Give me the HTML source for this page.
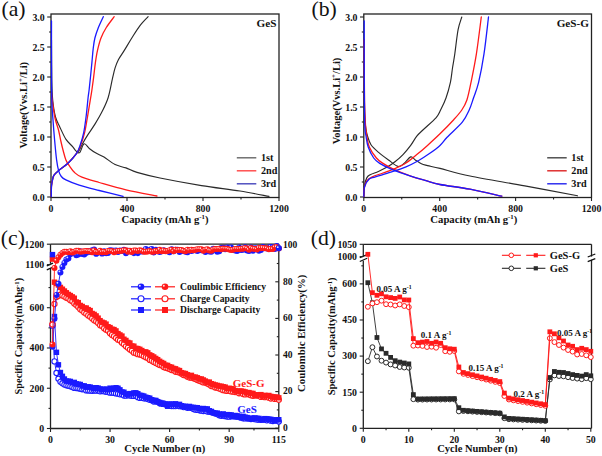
<!DOCTYPE html>
<html><head><meta charset="utf-8"><style>html,body{margin:0;padding:0;background:#fff;overflow:hidden}svg{display:block}</style></head>
<body><svg width="602" height="456" viewBox="0 0 602 456">
<rect width="602" height="456" fill="#fff"/>
<rect x="51" y="14" width="228" height="183.5" fill="none" stroke="#222" stroke-width="1.3"/>
<line x1="51" y1="197.5" x2="51" y2="201" stroke="#222" stroke-width="1.1"/>
<text x="51" y="211.8" font-family="Liberation Serif" font-weight="bold" font-size="9.8" fill="#111" text-anchor="middle" >0</text>
<line x1="89" y1="197.5" x2="89" y2="199.5" stroke="#222" stroke-width="1.1"/>
<line x1="127" y1="197.5" x2="127" y2="201" stroke="#222" stroke-width="1.1"/>
<text x="127" y="211.8" font-family="Liberation Serif" font-weight="bold" font-size="9.8" fill="#111" text-anchor="middle" >400</text>
<line x1="165" y1="197.5" x2="165" y2="199.5" stroke="#222" stroke-width="1.1"/>
<line x1="203" y1="197.5" x2="203" y2="201" stroke="#222" stroke-width="1.1"/>
<text x="203" y="211.8" font-family="Liberation Serif" font-weight="bold" font-size="9.8" fill="#111" text-anchor="middle" >800</text>
<line x1="241" y1="197.5" x2="241" y2="199.5" stroke="#222" stroke-width="1.1"/>
<line x1="279" y1="197.5" x2="279" y2="201" stroke="#222" stroke-width="1.1"/>
<text x="279" y="211.8" font-family="Liberation Serif" font-weight="bold" font-size="9.8" fill="#111" text-anchor="middle" >1200</text>
<line x1="47.2" y1="197" x2="51" y2="197" stroke="#222" stroke-width="1.1"/>
<text x="44.7" y="200.7" font-family="Liberation Serif" font-weight="bold" font-size="9.8" fill="#111" text-anchor="end" >0.0</text>
<line x1="49" y1="182" x2="51" y2="182" stroke="#222" stroke-width="1.1"/>
<line x1="47.2" y1="167" x2="51" y2="167" stroke="#222" stroke-width="1.1"/>
<text x="44.7" y="170.7" font-family="Liberation Serif" font-weight="bold" font-size="9.8" fill="#111" text-anchor="end" >0.5</text>
<line x1="49" y1="152" x2="51" y2="152" stroke="#222" stroke-width="1.1"/>
<line x1="47.2" y1="137" x2="51" y2="137" stroke="#222" stroke-width="1.1"/>
<text x="44.7" y="140.7" font-family="Liberation Serif" font-weight="bold" font-size="9.8" fill="#111" text-anchor="end" >1.0</text>
<line x1="49" y1="122" x2="51" y2="122" stroke="#222" stroke-width="1.1"/>
<line x1="47.2" y1="107" x2="51" y2="107" stroke="#222" stroke-width="1.1"/>
<text x="44.7" y="110.7" font-family="Liberation Serif" font-weight="bold" font-size="9.8" fill="#111" text-anchor="end" >1.5</text>
<line x1="49" y1="92" x2="51" y2="92" stroke="#222" stroke-width="1.1"/>
<line x1="47.2" y1="77" x2="51" y2="77" stroke="#222" stroke-width="1.1"/>
<text x="44.7" y="80.7" font-family="Liberation Serif" font-weight="bold" font-size="9.8" fill="#111" text-anchor="end" >2.0</text>
<line x1="49" y1="62" x2="51" y2="62" stroke="#222" stroke-width="1.1"/>
<line x1="47.2" y1="47" x2="51" y2="47" stroke="#222" stroke-width="1.1"/>
<text x="44.7" y="50.7" font-family="Liberation Serif" font-weight="bold" font-size="9.8" fill="#111" text-anchor="end" >2.5</text>
<line x1="49" y1="32" x2="51" y2="32" stroke="#222" stroke-width="1.1"/>
<line x1="47.2" y1="17" x2="51" y2="17" stroke="#222" stroke-width="1.1"/>
<text x="44.7" y="20.7" font-family="Liberation Serif" font-weight="bold" font-size="9.8" fill="#111" text-anchor="end" >3.0</text>
<text x="165" y="222.8" font-family="Liberation Serif" font-weight="bold" font-size="10.7" fill="#111" text-anchor="middle" >Capacity (mAh g<tspan dy="-3.6" font-size="6.8">-1</tspan><tspan dy="3.6">)</tspan></text>
<text transform="translate(26.8,105.2) rotate(-90)" font-family="Liberation Serif" font-weight="bold" font-size="10.5" fill="#111" text-anchor="middle">Voltage(Vvs.Li<tspan dy="-3.6" font-size="6.8">+</tspan><tspan dy="3.6">/Li)</tspan></text>
<text x="276.5" y="26.5" font-family="Liberation Serif" font-weight="bold" font-size="11.2" fill="#111" text-anchor="end" >GeS</text>
<text x="1.5" y="15.7" font-family="Liberation Serif" font-weight="normal" font-size="21.7" fill="#111" text-anchor="start" >(a)</text>
<rect x="363.8" y="14" width="227.7" height="183.5" fill="none" stroke="#222" stroke-width="1.3"/>
<line x1="363.8" y1="197.5" x2="363.8" y2="201" stroke="#222" stroke-width="1.1"/>
<text x="363.8" y="211.8" font-family="Liberation Serif" font-weight="bold" font-size="9.8" fill="#111" text-anchor="middle" >0</text>
<line x1="401.75" y1="197.5" x2="401.75" y2="199.5" stroke="#222" stroke-width="1.1"/>
<line x1="439.7" y1="197.5" x2="439.7" y2="201" stroke="#222" stroke-width="1.1"/>
<text x="439.7" y="211.8" font-family="Liberation Serif" font-weight="bold" font-size="9.8" fill="#111" text-anchor="middle" >400</text>
<line x1="477.65" y1="197.5" x2="477.65" y2="199.5" stroke="#222" stroke-width="1.1"/>
<line x1="515.6" y1="197.5" x2="515.6" y2="201" stroke="#222" stroke-width="1.1"/>
<text x="515.6" y="211.8" font-family="Liberation Serif" font-weight="bold" font-size="9.8" fill="#111" text-anchor="middle" >800</text>
<line x1="553.55" y1="197.5" x2="553.55" y2="199.5" stroke="#222" stroke-width="1.1"/>
<line x1="591.5" y1="197.5" x2="591.5" y2="201" stroke="#222" stroke-width="1.1"/>
<text x="591.5" y="211.8" font-family="Liberation Serif" font-weight="bold" font-size="9.8" fill="#111" text-anchor="middle" >1200</text>
<line x1="360" y1="197" x2="363.8" y2="197" stroke="#222" stroke-width="1.1"/>
<text x="357.5" y="200.7" font-family="Liberation Serif" font-weight="bold" font-size="9.8" fill="#111" text-anchor="end" >0.0</text>
<line x1="361.8" y1="182" x2="363.8" y2="182" stroke="#222" stroke-width="1.1"/>
<line x1="360" y1="167" x2="363.8" y2="167" stroke="#222" stroke-width="1.1"/>
<text x="357.5" y="170.7" font-family="Liberation Serif" font-weight="bold" font-size="9.8" fill="#111" text-anchor="end" >0.5</text>
<line x1="361.8" y1="152" x2="363.8" y2="152" stroke="#222" stroke-width="1.1"/>
<line x1="360" y1="137" x2="363.8" y2="137" stroke="#222" stroke-width="1.1"/>
<text x="357.5" y="140.7" font-family="Liberation Serif" font-weight="bold" font-size="9.8" fill="#111" text-anchor="end" >1.0</text>
<line x1="361.8" y1="122" x2="363.8" y2="122" stroke="#222" stroke-width="1.1"/>
<line x1="360" y1="107" x2="363.8" y2="107" stroke="#222" stroke-width="1.1"/>
<text x="357.5" y="110.7" font-family="Liberation Serif" font-weight="bold" font-size="9.8" fill="#111" text-anchor="end" >1.5</text>
<line x1="361.8" y1="92" x2="363.8" y2="92" stroke="#222" stroke-width="1.1"/>
<line x1="360" y1="77" x2="363.8" y2="77" stroke="#222" stroke-width="1.1"/>
<text x="357.5" y="80.7" font-family="Liberation Serif" font-weight="bold" font-size="9.8" fill="#111" text-anchor="end" >2.0</text>
<line x1="361.8" y1="62" x2="363.8" y2="62" stroke="#222" stroke-width="1.1"/>
<line x1="360" y1="47" x2="363.8" y2="47" stroke="#222" stroke-width="1.1"/>
<text x="357.5" y="50.7" font-family="Liberation Serif" font-weight="bold" font-size="9.8" fill="#111" text-anchor="end" >2.5</text>
<line x1="361.8" y1="32" x2="363.8" y2="32" stroke="#222" stroke-width="1.1"/>
<line x1="360" y1="17" x2="363.8" y2="17" stroke="#222" stroke-width="1.1"/>
<text x="357.5" y="20.7" font-family="Liberation Serif" font-weight="bold" font-size="9.8" fill="#111" text-anchor="end" >3.0</text>
<text x="473.85" y="222.8" font-family="Liberation Serif" font-weight="bold" font-size="10.7" fill="#111" text-anchor="middle" >Capacity (mAh g<tspan dy="-3.6" font-size="6.8">-1</tspan><tspan dy="3.6">)</tspan></text>
<text transform="translate(339.6,101) rotate(-90)" font-family="Liberation Serif" font-weight="bold" font-size="10.5" fill="#111" text-anchor="middle">Voltage(Vvs.Li<tspan dy="-3.6" font-size="6.8">+</tspan><tspan dy="3.6">/Li)</tspan></text>
<text x="589" y="26.5" font-family="Liberation Serif" font-weight="bold" font-size="11.2" fill="#111" text-anchor="end" >GeS-G</text>
<text x="311.5" y="15.7" font-family="Liberation Serif" font-weight="normal" font-size="21.7" fill="#111" text-anchor="start" >(b)</text>
<path d="M51.5,40 C51.55,46.67 51.6,70 51.8,80 C52,90 52.08,93.83 52.7,100 C53.32,106.17 54.28,112.43 55.5,117 C56.72,121.57 58.25,123.67 60,127.4 C61.75,131.13 63.9,136.2 66,139.4 C68.1,142.6 70.95,144.68 72.6,146.6 C74.25,148.52 74.72,149.9 75.9,150.9 C77.08,151.9 78.33,153.78 79.7,152.6 C81.07,151.42 82.45,144.45 84.1,143.8 C85.75,143.15 87.62,147.15 89.6,148.7 C91.58,150.25 93.6,151.72 96,153.1 C98.4,154.48 100.82,155.08 104,157 C107.18,158.92 111.43,162.78 115.1,164.6 C118.77,166.42 122.35,166.6 126,167.9 C129.65,169.2 131.33,170.72 137,172.4 C142.67,174.08 149.25,175.8 160,178 C170.75,180.2 188.17,183.43 201.5,185.6 C214.83,187.77 228.75,189.2 240,191 C251.25,192.8 264.17,195.5 269,196.4" fill="none" stroke="#2a2a2a" stroke-width="1.15" stroke-linejoin="round" stroke-linecap="round"/>
<path d="M51.3,196.5 C51.33,194.75 51.3,188.75 51.5,186 C51.7,183.25 52.08,181.8 52.5,180 C52.92,178.2 52.87,176.88 54,175.2 C55.13,173.52 56.98,171.88 59.3,169.9 C61.62,167.92 65.02,166.07 67.9,163.3 C70.78,160.53 74.7,155.48 76.6,153.3 C78.5,151.12 78.27,151.88 79.3,150.2 C80.33,148.52 81.33,145.83 82.8,143.2 C84.27,140.57 86.05,137.62 88.1,134.4 C90.15,131.18 92.77,127.7 95.1,123.9 C97.43,120.1 99.92,116 102.1,111.6 C104.28,107.2 106.47,103.03 108.2,97.5 C109.93,91.97 111.35,83.33 112.5,78.4 C113.65,73.47 114.1,71.05 115.1,67.9 C116.1,64.75 116.97,62.42 118.5,59.5 C120.03,56.58 122.08,53.98 124.3,50.4 C126.52,46.82 129.22,42.1 131.8,38 C134.38,33.9 137.08,29.35 139.8,25.8 C142.52,22.25 146.72,18.22 148.1,16.7" fill="none" stroke="#2a2a2a" stroke-width="1.15" stroke-linejoin="round" stroke-linecap="round"/>
<path d="M51.5,92 C51.62,93.33 51.62,95.67 52.2,100 C52.78,104.33 53.95,113 55,118 C56.05,123 57.57,126.33 58.5,130 C59.43,133.67 59.85,136.67 60.6,140 C61.35,143.33 62.12,146.68 63,150 C63.88,153.32 64.75,157.13 65.9,159.9 C67.05,162.67 68.45,164.48 69.9,166.6 C71.35,168.72 72.6,170.83 74.6,172.6 C76.6,174.37 77.8,175.55 81.9,177.2 C86,178.85 91.85,180.4 99.2,182.5 C106.55,184.6 116.38,187.55 126,189.8 C135.62,192.05 151.75,194.97 156.9,196" fill="none" stroke="#ff1a1a" stroke-width="1.3" stroke-linejoin="round" stroke-linecap="round"/>
<path d="M51.3,196.5 C51.33,194.75 51.3,188.75 51.5,186 C51.7,183.25 52.08,181.8 52.5,180 C52.92,178.2 52.87,176.88 54,175.2 C55.13,173.52 56.98,171.88 59.3,169.9 C61.62,167.92 65.02,166.07 67.9,163.3 C70.78,160.53 74.48,156.27 76.6,153.3 C78.72,150.33 79.27,148.95 80.6,145.5 C81.93,142.05 83.5,137.08 84.6,132.6 C85.7,128.12 86.18,124.45 87.2,118.6 C88.22,112.75 89.92,102.27 90.7,97.5 C91.48,92.73 91.4,93.47 91.9,90 C92.4,86.53 93.12,81.27 93.7,76.7 C94.28,72.13 94.77,66.98 95.4,62.6 C96.03,58.22 96.57,54.5 97.5,50.4 C98.43,46.3 99.53,41.82 101,38 C102.47,34.18 104.1,31.05 106.3,27.5 C108.5,23.95 112.88,18.5 114.2,16.7" fill="none" stroke="#ff1a1a" stroke-width="1.3" stroke-linejoin="round" stroke-linecap="round"/>
<path d="M51.5,21 C51.5,27.5 51.45,46.83 51.5,60 C51.55,73.17 51.55,90 51.8,100 C52.05,110 52.53,113.33 53,120 C53.47,126.67 54,133.35 54.6,140 C55.2,146.65 55.93,154.8 56.6,159.9 C57.27,165 57.82,167.83 58.6,170.6 C59.38,173.37 60.08,174.95 61.3,176.5 C62.52,178.05 62.92,178.45 65.9,179.9 C68.88,181.35 73.65,183.43 79.2,185.2 C84.75,186.97 91.88,188.65 99.2,190.5 C106.52,192.35 119.12,195.33 123.1,196.3" fill="none" stroke="#1a1aff" stroke-width="1.3" stroke-linejoin="round" stroke-linecap="round"/>
<path d="M51.3,196.5 C51.33,194.75 51.3,188.75 51.5,186 C51.7,183.25 52.08,181.8 52.5,180 C52.92,178.2 52.87,176.88 54,175.2 C55.13,173.52 56.98,171.88 59.3,169.9 C61.62,167.92 65.02,166.07 67.9,163.3 C70.78,160.53 74.55,156.35 76.6,153.3 C78.65,150.25 79.02,148.45 80.2,145 C81.38,141.55 82.68,137.6 83.7,132.6 C84.72,127.6 85.57,120.85 86.3,115 C87.03,109.15 87.63,101.67 88.1,97.5 C88.57,93.33 88.7,93.47 89.1,90 C89.5,86.53 90.03,81.27 90.5,76.7 C90.97,72.13 91.45,67.28 91.9,62.6 C92.35,57.92 92.7,52.7 93.2,48.6 C93.7,44.5 94.03,41.52 94.9,38 C95.77,34.48 97,31.05 98.4,27.5 C99.8,23.95 102.48,18.5 103.3,16.7" fill="none" stroke="#1a1aff" stroke-width="1.3" stroke-linejoin="round" stroke-linecap="round"/>
<path d="M364.2,40 C364.23,50 364.27,86.67 364.4,100 C364.53,113.33 364.77,115.33 365,120 C365.23,124.67 365.38,125.33 365.8,128 C366.22,130.67 366.63,133.22 367.5,136 C368.37,138.78 369.15,141.97 371,144.7 C372.85,147.43 375.68,149.85 378.6,152.4 C381.52,154.95 385.27,157.67 388.5,160 C391.73,162.33 395.42,165.82 398,166.4 C400.58,166.98 401.88,165.08 404,163.5 C406.12,161.92 408.82,157.5 410.7,156.9 C412.58,156.3 413.52,158.75 415.3,159.9 C417.08,161.05 419.37,162.85 421.4,163.8 C423.43,164.75 424.4,164.83 427.5,165.6 C430.6,166.37 432.92,166.67 440,168.4 C447.08,170.13 455.87,173.08 470,176 C484.13,178.92 506.88,182.6 524.8,185.9 C542.72,189.2 568.72,194.15 577.5,195.8" fill="none" stroke="#2a2a2a" stroke-width="1.15" stroke-linejoin="round" stroke-linecap="round"/>
<path d="M363.8,196.5 C363.93,194.63 364.08,188.45 364.6,185.3 C365.12,182.15 365.88,179.4 366.9,177.6 C367.92,175.8 368.78,175.53 370.7,174.5 C372.62,173.47 375.58,172.68 378.4,171.4 C381.22,170.12 384.78,168.45 387.6,166.8 C390.42,165.15 392.73,163.53 395.3,161.5 C397.87,159.47 400.43,157.28 403,154.6 C405.57,151.92 408.4,148.48 410.7,145.4 C413,142.32 414.77,138.67 416.8,136.1 C418.83,133.53 419.67,133.08 422.9,130 C426.13,126.92 433.25,120.93 436.2,117.6 C439.15,114.27 438.97,113.27 440.6,110 C442.23,106.73 444.37,102.6 446,98 C447.63,93.4 449.32,87.4 450.4,82.4 C451.48,77.4 451.77,72.75 452.5,68 C453.23,63.25 453.87,60.28 454.8,53.9 C455.73,47.52 456.93,35.85 458.1,29.7 C459.27,23.55 461.18,19.12 461.8,17" fill="none" stroke="#2a2a2a" stroke-width="1.15" stroke-linejoin="round" stroke-linecap="round"/>
<path d="M364.2,40 C364.25,50 364.28,85.83 364.5,100 C364.72,114.17 365.12,119 365.5,125 C365.88,131 366.17,132.33 366.8,136 C367.43,139.67 367.7,143.33 369.3,147 C370.9,150.67 374.12,155.27 376.4,158 C378.68,160.73 380.25,161.6 383,163.4 C385.75,165.2 388.28,166.68 392.9,168.8 C397.52,170.92 405.18,174.12 410.7,176.1 C416.22,178.08 421.12,179.3 426,180.7 C430.88,182.1 432.67,183.08 440,184.5 C447.33,185.92 459.7,187.25 470,189.2 C480.3,191.15 496.5,195.03 501.8,196.2" fill="none" stroke="#ff1a1a" stroke-width="1.3" stroke-linejoin="round" stroke-linecap="round"/>
<path d="M363.8,196.5 C363.87,195.13 363.68,190.93 364.2,188.3 C364.72,185.67 365.55,182.62 366.9,180.7 C368.25,178.78 369.62,178.08 372.3,176.8 C374.98,175.52 379.17,174.4 383,173 C386.83,171.6 391.47,170.07 395.3,168.4 C399.13,166.73 402.42,165.3 406,163 C409.58,160.7 413.22,157.53 416.8,154.6 C420.38,151.67 423.63,148.87 427.5,145.4 C431.37,141.93 435.63,138.08 440,133.8 C444.37,129.52 450.07,123.67 453.7,119.7 C457.33,115.73 459.6,113.28 461.8,110 C464,106.72 465.37,104.6 466.9,100 C468.43,95.4 469.42,90.08 471,82.4 C472.58,74.72 474.68,64.8 476.4,53.9 C478.12,43 480.48,23.15 481.3,17" fill="none" stroke="#ff1a1a" stroke-width="1.3" stroke-linejoin="round" stroke-linecap="round"/>
<path d="M364.2,21 C364.22,30.83 364.2,62.67 364.3,80 C364.4,97.33 364.52,115.67 364.8,125 C365.08,134.33 365.43,132.33 366,136 C366.57,139.67 366.92,143.33 368.2,147 C369.48,150.67 371.78,155.27 373.7,158 C375.62,160.73 376.87,161.6 379.7,163.4 C382.53,165.2 385.53,166.68 390.7,168.8 C395.87,170.92 404.82,174.12 410.7,176.1 C416.58,178.08 421.12,179.3 426,180.7 C430.88,182.1 432.67,183.08 440,184.5 C447.33,185.92 459.7,187.25 470,189.2 C480.3,191.15 496.5,195.03 501.8,196.2" fill="none" stroke="#1a1aff" stroke-width="1.3" stroke-linejoin="round" stroke-linecap="round"/>
<path d="M363.8,196.5 C363.93,194.88 363.7,189.7 364.6,186.8 C365.5,183.9 367.4,180.77 369.2,179.1 C371,177.43 371.82,177.95 375.4,176.8 C378.98,175.65 385.6,173.87 390.7,172.2 C395.8,170.53 401.4,168.72 406,166.8 C410.6,164.88 414.45,162.87 418.3,160.7 C422.15,158.53 425.48,156.35 429.1,153.8 C432.72,151.25 437,148.15 440,145.4 C443,142.65 443.35,141.22 447.1,137.3 C450.85,133.38 458.82,126.45 462.5,121.9 C466.18,117.35 467.37,113.98 469.2,110 C471.03,106.02 471.93,102.6 473.5,98 C475.07,93.4 476.85,89.75 478.6,82.4 C480.35,75.05 482.35,64.8 484,53.9 C485.65,43 487.75,23.15 488.5,17" fill="none" stroke="#1a1aff" stroke-width="1.3" stroke-linejoin="round" stroke-linecap="round"/>
<line x1="236.8" y1="157.8" x2="256.3" y2="157.8" stroke="#666" stroke-width="1.4"/>
<text x="261" y="161.4" font-family="Liberation Serif" font-weight="bold" font-size="10.2" fill="#111" text-anchor="start" >1st</text>
<line x1="236.8" y1="170.8" x2="256.3" y2="170.8" stroke="#f44" stroke-width="1.4"/>
<text x="261" y="174.4" font-family="Liberation Serif" font-weight="bold" font-size="10.2" fill="#111" text-anchor="start" >2nd</text>
<line x1="236.8" y1="183.8" x2="256.3" y2="183.8" stroke="#44b" stroke-width="1.4"/>
<text x="261" y="187.4" font-family="Liberation Serif" font-weight="bold" font-size="10.2" fill="#111" text-anchor="start" >3rd</text>
<line x1="547.2" y1="157.8" x2="566.7" y2="157.8" stroke="#444" stroke-width="1.4"/>
<text x="571.3" y="161.4" font-family="Liberation Serif" font-weight="bold" font-size="10.2" fill="#111" text-anchor="start" >1st</text>
<line x1="547.2" y1="170.8" x2="566.7" y2="170.8" stroke="#d22" stroke-width="1.4"/>
<text x="571.3" y="174.4" font-family="Liberation Serif" font-weight="bold" font-size="10.2" fill="#111" text-anchor="start" >2nd</text>
<line x1="547.2" y1="183.8" x2="566.7" y2="183.8" stroke="#22e" stroke-width="1.4"/>
<text x="571.3" y="187.4" font-family="Liberation Serif" font-weight="bold" font-size="10.2" fill="#111" text-anchor="start" >3rd</text>
<line x1="50.5" y1="244.2" x2="278.8" y2="244.2" stroke="#222" stroke-width="1.3"/>
<line x1="50.5" y1="428.5" x2="278.8" y2="428.5" stroke="#222" stroke-width="1.3"/>
<line x1="278.8" y1="244.2" x2="278.8" y2="428.5" stroke="#222" stroke-width="1.3"/>
<line x1="50.5" y1="244.2" x2="50.5" y2="265.2" stroke="#222" stroke-width="1.3"/>
<line x1="50.5" y1="268.2" x2="50.5" y2="428.5" stroke="#222" stroke-width="1.3"/>
<polygon points="46.5,265.6 53,262.6 53,267.6 46.5,270.6" fill="#fff"/>
<line x1="46.8" y1="265.9" x2="53" y2="263.1" stroke="#111" stroke-width="1.2"/>
<line x1="46.8" y1="269.9" x2="53" y2="267.1" stroke="#111" stroke-width="1.2"/>
<line x1="46.9" y1="428.5" x2="50.5" y2="428.5" stroke="#222" stroke-width="1.1"/>
<text x="44.2" y="431.8" font-family="Liberation Serif" font-weight="bold" font-size="9.8" fill="#111" text-anchor="end" >0</text>
<line x1="48.5" y1="408.37" x2="50.5" y2="408.37" stroke="#222" stroke-width="1.1"/>
<line x1="46.9" y1="388.24" x2="50.5" y2="388.24" stroke="#222" stroke-width="1.1"/>
<text x="44.2" y="391.54" font-family="Liberation Serif" font-weight="bold" font-size="9.8" fill="#111" text-anchor="end" >200</text>
<line x1="48.5" y1="368.11" x2="50.5" y2="368.11" stroke="#222" stroke-width="1.1"/>
<line x1="46.9" y1="347.98" x2="50.5" y2="347.98" stroke="#222" stroke-width="1.1"/>
<text x="44.2" y="351.28" font-family="Liberation Serif" font-weight="bold" font-size="9.8" fill="#111" text-anchor="end" >400</text>
<line x1="48.5" y1="327.85" x2="50.5" y2="327.85" stroke="#222" stroke-width="1.1"/>
<line x1="46.9" y1="307.72" x2="50.5" y2="307.72" stroke="#222" stroke-width="1.1"/>
<text x="44.2" y="311.02" font-family="Liberation Serif" font-weight="bold" font-size="9.8" fill="#111" text-anchor="end" >600</text>
<line x1="48.5" y1="287.59" x2="50.5" y2="287.59" stroke="#222" stroke-width="1.1"/>
<line x1="46.9" y1="264.6" x2="50.5" y2="264.6" stroke="#222" stroke-width="1.1"/>
<text x="44.2" y="267.9" font-family="Liberation Serif" font-weight="bold" font-size="9.8" fill="#111" text-anchor="end" >1100</text>
<line x1="46.9" y1="244.2" x2="50.5" y2="244.2" stroke="#222" stroke-width="1.1"/>
<text x="44.2" y="247.5" font-family="Liberation Serif" font-weight="bold" font-size="9.8" fill="#111" text-anchor="end" >1200</text>
<line x1="50.5" y1="428.5" x2="50.5" y2="432" stroke="#222" stroke-width="1.1"/>
<text x="50.5" y="442.5" font-family="Liberation Serif" font-weight="bold" font-size="9.8" fill="#111" text-anchor="middle" >0</text>
<line x1="80.28" y1="428.5" x2="80.28" y2="430.5" stroke="#222" stroke-width="1.1"/>
<line x1="110.06" y1="428.5" x2="110.06" y2="432" stroke="#222" stroke-width="1.1"/>
<text x="110.06" y="442.5" font-family="Liberation Serif" font-weight="bold" font-size="9.8" fill="#111" text-anchor="middle" >30</text>
<line x1="139.83" y1="428.5" x2="139.83" y2="430.5" stroke="#222" stroke-width="1.1"/>
<line x1="169.61" y1="428.5" x2="169.61" y2="432" stroke="#222" stroke-width="1.1"/>
<text x="169.61" y="442.5" font-family="Liberation Serif" font-weight="bold" font-size="9.8" fill="#111" text-anchor="middle" >60</text>
<line x1="199.39" y1="428.5" x2="199.39" y2="430.5" stroke="#222" stroke-width="1.1"/>
<line x1="229.17" y1="428.5" x2="229.17" y2="432" stroke="#222" stroke-width="1.1"/>
<text x="229.17" y="442.5" font-family="Liberation Serif" font-weight="bold" font-size="9.8" fill="#111" text-anchor="middle" >90</text>
<line x1="253.98" y1="428.5" x2="253.98" y2="430.5" stroke="#222" stroke-width="1.1"/>
<line x1="278.8" y1="428.5" x2="278.8" y2="432" stroke="#222" stroke-width="1.1"/>
<text x="278.8" y="442.5" font-family="Liberation Serif" font-weight="bold" font-size="9.8" fill="#111" text-anchor="middle" >115</text>
<line x1="275.3" y1="428.2" x2="278.8" y2="428.2" stroke="#222" stroke-width="1.1"/>
<text x="283.1" y="430.9" font-family="Liberation Serif" font-weight="bold" font-size="9.5" fill="#111" text-anchor="start" >0</text>
<line x1="276.8" y1="409.9" x2="278.8" y2="409.9" stroke="#222" stroke-width="1.1"/>
<line x1="275.3" y1="391.6" x2="278.8" y2="391.6" stroke="#222" stroke-width="1.1"/>
<text x="283.1" y="394.3" font-family="Liberation Serif" font-weight="bold" font-size="9.5" fill="#111" text-anchor="start" >20</text>
<line x1="276.8" y1="373.3" x2="278.8" y2="373.3" stroke="#222" stroke-width="1.1"/>
<line x1="275.3" y1="355" x2="278.8" y2="355" stroke="#222" stroke-width="1.1"/>
<text x="283.1" y="357.7" font-family="Liberation Serif" font-weight="bold" font-size="9.5" fill="#111" text-anchor="start" >40</text>
<line x1="276.8" y1="336.7" x2="278.8" y2="336.7" stroke="#222" stroke-width="1.1"/>
<line x1="275.3" y1="318.4" x2="278.8" y2="318.4" stroke="#222" stroke-width="1.1"/>
<text x="283.1" y="321.1" font-family="Liberation Serif" font-weight="bold" font-size="9.5" fill="#111" text-anchor="start" >60</text>
<line x1="276.8" y1="300.1" x2="278.8" y2="300.1" stroke="#222" stroke-width="1.1"/>
<line x1="275.3" y1="281.8" x2="278.8" y2="281.8" stroke="#222" stroke-width="1.1"/>
<text x="283.1" y="284.5" font-family="Liberation Serif" font-weight="bold" font-size="9.5" fill="#111" text-anchor="start" >80</text>
<line x1="276.8" y1="263.5" x2="278.8" y2="263.5" stroke="#222" stroke-width="1.1"/>
<line x1="275.3" y1="245.2" x2="278.8" y2="245.2" stroke="#222" stroke-width="1.1"/>
<text x="283.1" y="247.9" font-family="Liberation Serif" font-weight="bold" font-size="9.5" fill="#111" text-anchor="start" >100</text>
<text x="164.8" y="452" font-family="Liberation Serif" font-weight="bold" font-size="10.6" fill="#111" text-anchor="middle" >Cycle Number (n)</text>
<text transform="translate(22.3,336.2) rotate(-90)" font-family="Liberation Serif" font-weight="bold" font-size="10.4" fill="#111" text-anchor="middle">Specific Capacity(mAhg<tspan dy="-3.5" font-size="6.7">-1</tspan><tspan dy="3.5">)</tspan></text>
<text transform="translate(304.8,333.3) rotate(-90)" font-family="Liberation Serif" font-weight="bold" font-size="10.8" fill="#111" text-anchor="middle">Coulombic Efficiency(%)</text>
<text x="0.8" y="244.6" font-family="Liberation Serif" font-weight="normal" font-size="21.7" fill="#111" text-anchor="start" >(c)</text>
<path d="M52.49,324.5 L54.47,304 L56.46,297 L58.44,295.85 L60.43,294.7 L62.41,295.6 L64.4,296.5 L66.38,297.82 L68.37,298.56 L70.35,300.19 L72.34,301.31 L74.32,303.6 L76.31,305.1 L78.29,307 L80.28,309.27 L82.26,310.58 L84.25,312.4 L86.23,313.74 L88.22,315.4 L90.2,316.69 L92.19,318.41 L94.17,320.25 L96.16,321.31 L98.15,322.88 L100.13,325.31 L102.12,325.96 L104.1,328.27 L106.09,329.79 L108.07,330.68 L110.06,333.24 L112.04,334.92 L114.03,336.22 L116.01,337.96 L118,339.71 L119.98,340.57 L121.97,342.66 L123.95,344.26 L125.94,346.28 L127.92,347.87 L129.91,349.53 L131.89,350.86 L133.88,352.64 L135.86,353.26 L137.85,354.16 L139.83,354.48 L141.82,355.12 L143.81,356.13 L145.79,357.28 L147.78,357.98 L149.76,359.95 L151.75,360.7 L153.73,361.88 L155.72,362.96 L157.7,364.12 L159.69,364.98 L161.67,365.23 L163.66,366.99 L165.64,367.74 L167.63,368.25 L169.61,369.09 L171.6,370.05 L173.58,370.14 L175.57,371.77 L177.55,372.01 L179.54,372.62 L181.52,373.67 L183.51,375.04 L185.49,375.24 L187.48,376.63 L189.47,377.61 L191.45,377.72 L193.44,378.28 L195.42,379.09 L197.41,380.03 L199.39,380.82 L201.38,381.5 L203.36,382.4 L205.35,382.59 L207.33,383.53 L209.32,384.53 L211.3,385.98 L213.29,386.31 L215.27,387.49 L217.26,387.69 L219.24,388.61 L221.23,389.37 L223.21,390.2 L225.2,390.58 L227.18,390.91 L229.17,390.8 L231.15,391.42 L233.14,391.71 L235.13,392.06 L237.11,392 L239.1,393.28 L241.08,392.79 L243.07,394.08 L245.05,394.38 L247.04,393.63 L249.02,394.51 L251.01,395.27 L252.99,395.75 L254.98,395.44 L256.96,395.53 L258.95,395.77 L260.93,396.96 L262.92,396.39 L264.9,397.14 L266.89,396.92 L268.87,397.69 L270.86,398.51 L272.84,397.83 L274.83,398.97 L276.81,398.9 L278.8,399.66" fill="none" stroke="#ff1a1a" stroke-width="0.9" stroke-linejoin="round" stroke-linecap="round"/>
<path d="M54.47,282.2 L56.46,283.5 L58.44,285 L60.43,287.4 L62.41,289.2 L64.4,291 L66.38,292.77 L68.37,294.44 L70.35,295.53 L72.34,296.88 L74.32,298.2 L76.31,302.02 L78.29,302.63 L80.28,305.43 L82.26,306.45 L84.25,308.07 L86.23,308.01 L88.22,309.6 L90.2,310.56 L92.19,313.48 L94.17,314.41 L96.16,315.92 L98.15,318.13 L100.13,320.65 L102.12,322.24 L104.1,322.91 L106.09,324.12 L108.07,326.74 L110.06,327.57 L112.04,329.17 L114.03,329.58 L116.01,330.91 L118,333.59 L119.98,334.91 L121.97,336.08 L123.95,339.2 L125.94,340.44 L127.92,342.43 L129.91,343 L131.89,345.96 L133.88,346.18 L135.86,348.34 L137.85,348.59 L139.83,349.3 L141.82,350.54 L143.81,352.03 L145.79,351.87 L147.78,352.84 L149.76,354.86 L151.75,355.79 L153.73,356.97 L155.72,358.44 L157.7,359.65 L159.69,361.28 L161.67,362.49 L163.66,363.46 L165.64,365.17 L167.63,365.41 L169.61,366.73 L171.6,367.2 L173.58,368.43 L175.57,368.8 L177.55,370.07 L179.54,370.59 L181.52,372.63 L183.51,373.24 L185.49,373.56 L187.48,374.76 L189.47,376.09 L191.45,375.36 L193.44,377.1 L195.42,377.08 L197.41,377.78 L199.39,378.92 L201.38,378.97 L203.36,379.95 L205.35,381.05 L207.33,382.32 L209.32,382.1 L211.3,383.68 L213.29,384.28 L215.27,384.97 L217.26,385.4 L219.24,386.12 L221.23,386.2 L223.21,386.76 L225.2,387.11 L227.18,388.63 L229.17,388.29 L231.15,388.59 L233.14,388.91 L235.13,390.56 L237.11,391.05 L239.1,391.18 L241.08,391 L243.07,391.38 L245.05,391.9 L247.04,392.61 L249.02,392.57 L251.01,393.4 L252.99,393.41 L254.98,394.84 L256.96,395.17 L258.95,394.79 L260.93,394.62 L262.92,396.08 L264.9,395.34 L266.89,395.72 L268.87,395.46 L270.86,396.38 L272.84,396.83 L274.83,397.19 L276.81,397.01 L278.8,397.81" fill="none" stroke="#ff1a1a" stroke-width="0.9" stroke-linejoin="round" stroke-linecap="round"/>
<circle cx="52.49" cy="324.5" r="2.6" fill="#fff" stroke="#ff1a1a" stroke-width="1.1"/>
<circle cx="54.47" cy="304" r="2.6" fill="#fff" stroke="#ff1a1a" stroke-width="1.1"/>
<circle cx="56.46" cy="297" r="2.6" fill="#fff" stroke="#ff1a1a" stroke-width="1.1"/>
<circle cx="58.44" cy="295.85" r="2.6" fill="#fff" stroke="#ff1a1a" stroke-width="1.1"/>
<circle cx="60.43" cy="294.7" r="2.6" fill="#fff" stroke="#ff1a1a" stroke-width="1.1"/>
<circle cx="62.41" cy="295.6" r="2.6" fill="#fff" stroke="#ff1a1a" stroke-width="1.1"/>
<circle cx="64.4" cy="296.5" r="2.6" fill="#fff" stroke="#ff1a1a" stroke-width="1.1"/>
<circle cx="66.38" cy="297.82" r="2.6" fill="#fff" stroke="#ff1a1a" stroke-width="1.1"/>
<circle cx="68.37" cy="298.56" r="2.6" fill="#fff" stroke="#ff1a1a" stroke-width="1.1"/>
<circle cx="70.35" cy="300.19" r="2.6" fill="#fff" stroke="#ff1a1a" stroke-width="1.1"/>
<circle cx="72.34" cy="301.31" r="2.6" fill="#fff" stroke="#ff1a1a" stroke-width="1.1"/>
<circle cx="74.32" cy="303.6" r="2.6" fill="#fff" stroke="#ff1a1a" stroke-width="1.1"/>
<circle cx="76.31" cy="305.1" r="2.6" fill="#fff" stroke="#ff1a1a" stroke-width="1.1"/>
<circle cx="78.29" cy="307" r="2.6" fill="#fff" stroke="#ff1a1a" stroke-width="1.1"/>
<circle cx="80.28" cy="309.27" r="2.6" fill="#fff" stroke="#ff1a1a" stroke-width="1.1"/>
<circle cx="82.26" cy="310.58" r="2.6" fill="#fff" stroke="#ff1a1a" stroke-width="1.1"/>
<circle cx="84.25" cy="312.4" r="2.6" fill="#fff" stroke="#ff1a1a" stroke-width="1.1"/>
<circle cx="86.23" cy="313.74" r="2.6" fill="#fff" stroke="#ff1a1a" stroke-width="1.1"/>
<circle cx="88.22" cy="315.4" r="2.6" fill="#fff" stroke="#ff1a1a" stroke-width="1.1"/>
<circle cx="90.2" cy="316.69" r="2.6" fill="#fff" stroke="#ff1a1a" stroke-width="1.1"/>
<circle cx="92.19" cy="318.41" r="2.6" fill="#fff" stroke="#ff1a1a" stroke-width="1.1"/>
<circle cx="94.17" cy="320.25" r="2.6" fill="#fff" stroke="#ff1a1a" stroke-width="1.1"/>
<circle cx="96.16" cy="321.31" r="2.6" fill="#fff" stroke="#ff1a1a" stroke-width="1.1"/>
<circle cx="98.15" cy="322.88" r="2.6" fill="#fff" stroke="#ff1a1a" stroke-width="1.1"/>
<circle cx="100.13" cy="325.31" r="2.6" fill="#fff" stroke="#ff1a1a" stroke-width="1.1"/>
<circle cx="102.12" cy="325.96" r="2.6" fill="#fff" stroke="#ff1a1a" stroke-width="1.1"/>
<circle cx="104.1" cy="328.27" r="2.6" fill="#fff" stroke="#ff1a1a" stroke-width="1.1"/>
<circle cx="106.09" cy="329.79" r="2.6" fill="#fff" stroke="#ff1a1a" stroke-width="1.1"/>
<circle cx="108.07" cy="330.68" r="2.6" fill="#fff" stroke="#ff1a1a" stroke-width="1.1"/>
<circle cx="110.06" cy="333.24" r="2.6" fill="#fff" stroke="#ff1a1a" stroke-width="1.1"/>
<circle cx="112.04" cy="334.92" r="2.6" fill="#fff" stroke="#ff1a1a" stroke-width="1.1"/>
<circle cx="114.03" cy="336.22" r="2.6" fill="#fff" stroke="#ff1a1a" stroke-width="1.1"/>
<circle cx="116.01" cy="337.96" r="2.6" fill="#fff" stroke="#ff1a1a" stroke-width="1.1"/>
<circle cx="118" cy="339.71" r="2.6" fill="#fff" stroke="#ff1a1a" stroke-width="1.1"/>
<circle cx="119.98" cy="340.57" r="2.6" fill="#fff" stroke="#ff1a1a" stroke-width="1.1"/>
<circle cx="121.97" cy="342.66" r="2.6" fill="#fff" stroke="#ff1a1a" stroke-width="1.1"/>
<circle cx="123.95" cy="344.26" r="2.6" fill="#fff" stroke="#ff1a1a" stroke-width="1.1"/>
<circle cx="125.94" cy="346.28" r="2.6" fill="#fff" stroke="#ff1a1a" stroke-width="1.1"/>
<circle cx="127.92" cy="347.87" r="2.6" fill="#fff" stroke="#ff1a1a" stroke-width="1.1"/>
<circle cx="129.91" cy="349.53" r="2.6" fill="#fff" stroke="#ff1a1a" stroke-width="1.1"/>
<circle cx="131.89" cy="350.86" r="2.6" fill="#fff" stroke="#ff1a1a" stroke-width="1.1"/>
<circle cx="133.88" cy="352.64" r="2.6" fill="#fff" stroke="#ff1a1a" stroke-width="1.1"/>
<circle cx="135.86" cy="353.26" r="2.6" fill="#fff" stroke="#ff1a1a" stroke-width="1.1"/>
<circle cx="137.85" cy="354.16" r="2.6" fill="#fff" stroke="#ff1a1a" stroke-width="1.1"/>
<circle cx="139.83" cy="354.48" r="2.6" fill="#fff" stroke="#ff1a1a" stroke-width="1.1"/>
<circle cx="141.82" cy="355.12" r="2.6" fill="#fff" stroke="#ff1a1a" stroke-width="1.1"/>
<circle cx="143.81" cy="356.13" r="2.6" fill="#fff" stroke="#ff1a1a" stroke-width="1.1"/>
<circle cx="145.79" cy="357.28" r="2.6" fill="#fff" stroke="#ff1a1a" stroke-width="1.1"/>
<circle cx="147.78" cy="357.98" r="2.6" fill="#fff" stroke="#ff1a1a" stroke-width="1.1"/>
<circle cx="149.76" cy="359.95" r="2.6" fill="#fff" stroke="#ff1a1a" stroke-width="1.1"/>
<circle cx="151.75" cy="360.7" r="2.6" fill="#fff" stroke="#ff1a1a" stroke-width="1.1"/>
<circle cx="153.73" cy="361.88" r="2.6" fill="#fff" stroke="#ff1a1a" stroke-width="1.1"/>
<circle cx="155.72" cy="362.96" r="2.6" fill="#fff" stroke="#ff1a1a" stroke-width="1.1"/>
<circle cx="157.7" cy="364.12" r="2.6" fill="#fff" stroke="#ff1a1a" stroke-width="1.1"/>
<circle cx="159.69" cy="364.98" r="2.6" fill="#fff" stroke="#ff1a1a" stroke-width="1.1"/>
<circle cx="161.67" cy="365.23" r="2.6" fill="#fff" stroke="#ff1a1a" stroke-width="1.1"/>
<circle cx="163.66" cy="366.99" r="2.6" fill="#fff" stroke="#ff1a1a" stroke-width="1.1"/>
<circle cx="165.64" cy="367.74" r="2.6" fill="#fff" stroke="#ff1a1a" stroke-width="1.1"/>
<circle cx="167.63" cy="368.25" r="2.6" fill="#fff" stroke="#ff1a1a" stroke-width="1.1"/>
<circle cx="169.61" cy="369.09" r="2.6" fill="#fff" stroke="#ff1a1a" stroke-width="1.1"/>
<circle cx="171.6" cy="370.05" r="2.6" fill="#fff" stroke="#ff1a1a" stroke-width="1.1"/>
<circle cx="173.58" cy="370.14" r="2.6" fill="#fff" stroke="#ff1a1a" stroke-width="1.1"/>
<circle cx="175.57" cy="371.77" r="2.6" fill="#fff" stroke="#ff1a1a" stroke-width="1.1"/>
<circle cx="177.55" cy="372.01" r="2.6" fill="#fff" stroke="#ff1a1a" stroke-width="1.1"/>
<circle cx="179.54" cy="372.62" r="2.6" fill="#fff" stroke="#ff1a1a" stroke-width="1.1"/>
<circle cx="181.52" cy="373.67" r="2.6" fill="#fff" stroke="#ff1a1a" stroke-width="1.1"/>
<circle cx="183.51" cy="375.04" r="2.6" fill="#fff" stroke="#ff1a1a" stroke-width="1.1"/>
<circle cx="185.49" cy="375.24" r="2.6" fill="#fff" stroke="#ff1a1a" stroke-width="1.1"/>
<circle cx="187.48" cy="376.63" r="2.6" fill="#fff" stroke="#ff1a1a" stroke-width="1.1"/>
<circle cx="189.47" cy="377.61" r="2.6" fill="#fff" stroke="#ff1a1a" stroke-width="1.1"/>
<circle cx="191.45" cy="377.72" r="2.6" fill="#fff" stroke="#ff1a1a" stroke-width="1.1"/>
<circle cx="193.44" cy="378.28" r="2.6" fill="#fff" stroke="#ff1a1a" stroke-width="1.1"/>
<circle cx="195.42" cy="379.09" r="2.6" fill="#fff" stroke="#ff1a1a" stroke-width="1.1"/>
<circle cx="197.41" cy="380.03" r="2.6" fill="#fff" stroke="#ff1a1a" stroke-width="1.1"/>
<circle cx="199.39" cy="380.82" r="2.6" fill="#fff" stroke="#ff1a1a" stroke-width="1.1"/>
<circle cx="201.38" cy="381.5" r="2.6" fill="#fff" stroke="#ff1a1a" stroke-width="1.1"/>
<circle cx="203.36" cy="382.4" r="2.6" fill="#fff" stroke="#ff1a1a" stroke-width="1.1"/>
<circle cx="205.35" cy="382.59" r="2.6" fill="#fff" stroke="#ff1a1a" stroke-width="1.1"/>
<circle cx="207.33" cy="383.53" r="2.6" fill="#fff" stroke="#ff1a1a" stroke-width="1.1"/>
<circle cx="209.32" cy="384.53" r="2.6" fill="#fff" stroke="#ff1a1a" stroke-width="1.1"/>
<circle cx="211.3" cy="385.98" r="2.6" fill="#fff" stroke="#ff1a1a" stroke-width="1.1"/>
<circle cx="213.29" cy="386.31" r="2.6" fill="#fff" stroke="#ff1a1a" stroke-width="1.1"/>
<circle cx="215.27" cy="387.49" r="2.6" fill="#fff" stroke="#ff1a1a" stroke-width="1.1"/>
<circle cx="217.26" cy="387.69" r="2.6" fill="#fff" stroke="#ff1a1a" stroke-width="1.1"/>
<circle cx="219.24" cy="388.61" r="2.6" fill="#fff" stroke="#ff1a1a" stroke-width="1.1"/>
<circle cx="221.23" cy="389.37" r="2.6" fill="#fff" stroke="#ff1a1a" stroke-width="1.1"/>
<circle cx="223.21" cy="390.2" r="2.6" fill="#fff" stroke="#ff1a1a" stroke-width="1.1"/>
<circle cx="225.2" cy="390.58" r="2.6" fill="#fff" stroke="#ff1a1a" stroke-width="1.1"/>
<circle cx="227.18" cy="390.91" r="2.6" fill="#fff" stroke="#ff1a1a" stroke-width="1.1"/>
<circle cx="229.17" cy="390.8" r="2.6" fill="#fff" stroke="#ff1a1a" stroke-width="1.1"/>
<circle cx="231.15" cy="391.42" r="2.6" fill="#fff" stroke="#ff1a1a" stroke-width="1.1"/>
<circle cx="233.14" cy="391.71" r="2.6" fill="#fff" stroke="#ff1a1a" stroke-width="1.1"/>
<circle cx="235.13" cy="392.06" r="2.6" fill="#fff" stroke="#ff1a1a" stroke-width="1.1"/>
<circle cx="237.11" cy="392" r="2.6" fill="#fff" stroke="#ff1a1a" stroke-width="1.1"/>
<circle cx="239.1" cy="393.28" r="2.6" fill="#fff" stroke="#ff1a1a" stroke-width="1.1"/>
<circle cx="241.08" cy="392.79" r="2.6" fill="#fff" stroke="#ff1a1a" stroke-width="1.1"/>
<circle cx="243.07" cy="394.08" r="2.6" fill="#fff" stroke="#ff1a1a" stroke-width="1.1"/>
<circle cx="245.05" cy="394.38" r="2.6" fill="#fff" stroke="#ff1a1a" stroke-width="1.1"/>
<circle cx="247.04" cy="393.63" r="2.6" fill="#fff" stroke="#ff1a1a" stroke-width="1.1"/>
<circle cx="249.02" cy="394.51" r="2.6" fill="#fff" stroke="#ff1a1a" stroke-width="1.1"/>
<circle cx="251.01" cy="395.27" r="2.6" fill="#fff" stroke="#ff1a1a" stroke-width="1.1"/>
<circle cx="252.99" cy="395.75" r="2.6" fill="#fff" stroke="#ff1a1a" stroke-width="1.1"/>
<circle cx="254.98" cy="395.44" r="2.6" fill="#fff" stroke="#ff1a1a" stroke-width="1.1"/>
<circle cx="256.96" cy="395.53" r="2.6" fill="#fff" stroke="#ff1a1a" stroke-width="1.1"/>
<circle cx="258.95" cy="395.77" r="2.6" fill="#fff" stroke="#ff1a1a" stroke-width="1.1"/>
<circle cx="260.93" cy="396.96" r="2.6" fill="#fff" stroke="#ff1a1a" stroke-width="1.1"/>
<circle cx="262.92" cy="396.39" r="2.6" fill="#fff" stroke="#ff1a1a" stroke-width="1.1"/>
<circle cx="264.9" cy="397.14" r="2.6" fill="#fff" stroke="#ff1a1a" stroke-width="1.1"/>
<circle cx="266.89" cy="396.92" r="2.6" fill="#fff" stroke="#ff1a1a" stroke-width="1.1"/>
<circle cx="268.87" cy="397.69" r="2.6" fill="#fff" stroke="#ff1a1a" stroke-width="1.1"/>
<circle cx="270.86" cy="398.51" r="2.6" fill="#fff" stroke="#ff1a1a" stroke-width="1.1"/>
<circle cx="272.84" cy="397.83" r="2.6" fill="#fff" stroke="#ff1a1a" stroke-width="1.1"/>
<circle cx="274.83" cy="398.97" r="2.6" fill="#fff" stroke="#ff1a1a" stroke-width="1.1"/>
<circle cx="276.81" cy="398.9" r="2.6" fill="#fff" stroke="#ff1a1a" stroke-width="1.1"/>
<circle cx="278.8" cy="399.66" r="2.6" fill="#fff" stroke="#ff1a1a" stroke-width="1.1"/>
<rect x="49.79" y="256.4" width="5.4" height="5.4" fill="#ff1a1a"/>
<rect x="51.77" y="279.5" width="5.4" height="5.4" fill="#ff1a1a"/>
<rect x="53.76" y="280.8" width="5.4" height="5.4" fill="#ff1a1a"/>
<rect x="55.74" y="282.3" width="5.4" height="5.4" fill="#ff1a1a"/>
<rect x="57.73" y="284.7" width="5.4" height="5.4" fill="#ff1a1a"/>
<rect x="59.71" y="286.5" width="5.4" height="5.4" fill="#ff1a1a"/>
<rect x="61.7" y="288.3" width="5.4" height="5.4" fill="#ff1a1a"/>
<rect x="63.68" y="290.07" width="5.4" height="5.4" fill="#ff1a1a"/>
<rect x="65.67" y="291.74" width="5.4" height="5.4" fill="#ff1a1a"/>
<rect x="67.65" y="292.83" width="5.4" height="5.4" fill="#ff1a1a"/>
<rect x="69.64" y="294.18" width="5.4" height="5.4" fill="#ff1a1a"/>
<rect x="71.62" y="295.5" width="5.4" height="5.4" fill="#ff1a1a"/>
<rect x="73.61" y="299.32" width="5.4" height="5.4" fill="#ff1a1a"/>
<rect x="75.59" y="299.93" width="5.4" height="5.4" fill="#ff1a1a"/>
<rect x="77.58" y="302.73" width="5.4" height="5.4" fill="#ff1a1a"/>
<rect x="79.56" y="303.75" width="5.4" height="5.4" fill="#ff1a1a"/>
<rect x="81.55" y="305.37" width="5.4" height="5.4" fill="#ff1a1a"/>
<rect x="83.53" y="305.31" width="5.4" height="5.4" fill="#ff1a1a"/>
<rect x="85.52" y="306.9" width="5.4" height="5.4" fill="#ff1a1a"/>
<rect x="87.5" y="307.86" width="5.4" height="5.4" fill="#ff1a1a"/>
<rect x="89.49" y="310.78" width="5.4" height="5.4" fill="#ff1a1a"/>
<rect x="91.47" y="311.71" width="5.4" height="5.4" fill="#ff1a1a"/>
<rect x="93.46" y="313.22" width="5.4" height="5.4" fill="#ff1a1a"/>
<rect x="95.45" y="315.43" width="5.4" height="5.4" fill="#ff1a1a"/>
<rect x="97.43" y="317.95" width="5.4" height="5.4" fill="#ff1a1a"/>
<rect x="99.42" y="319.54" width="5.4" height="5.4" fill="#ff1a1a"/>
<rect x="101.4" y="320.21" width="5.4" height="5.4" fill="#ff1a1a"/>
<rect x="103.39" y="321.42" width="5.4" height="5.4" fill="#ff1a1a"/>
<rect x="105.37" y="324.04" width="5.4" height="5.4" fill="#ff1a1a"/>
<rect x="107.36" y="324.87" width="5.4" height="5.4" fill="#ff1a1a"/>
<rect x="109.34" y="326.47" width="5.4" height="5.4" fill="#ff1a1a"/>
<rect x="111.33" y="326.88" width="5.4" height="5.4" fill="#ff1a1a"/>
<rect x="113.31" y="328.21" width="5.4" height="5.4" fill="#ff1a1a"/>
<rect x="115.3" y="330.89" width="5.4" height="5.4" fill="#ff1a1a"/>
<rect x="117.28" y="332.21" width="5.4" height="5.4" fill="#ff1a1a"/>
<rect x="119.27" y="333.38" width="5.4" height="5.4" fill="#ff1a1a"/>
<rect x="121.25" y="336.5" width="5.4" height="5.4" fill="#ff1a1a"/>
<rect x="123.24" y="337.74" width="5.4" height="5.4" fill="#ff1a1a"/>
<rect x="125.22" y="339.73" width="5.4" height="5.4" fill="#ff1a1a"/>
<rect x="127.21" y="340.3" width="5.4" height="5.4" fill="#ff1a1a"/>
<rect x="129.19" y="343.26" width="5.4" height="5.4" fill="#ff1a1a"/>
<rect x="131.18" y="343.48" width="5.4" height="5.4" fill="#ff1a1a"/>
<rect x="133.16" y="345.64" width="5.4" height="5.4" fill="#ff1a1a"/>
<rect x="135.15" y="345.89" width="5.4" height="5.4" fill="#ff1a1a"/>
<rect x="137.13" y="346.6" width="5.4" height="5.4" fill="#ff1a1a"/>
<rect x="139.12" y="347.84" width="5.4" height="5.4" fill="#ff1a1a"/>
<rect x="141.11" y="349.33" width="5.4" height="5.4" fill="#ff1a1a"/>
<rect x="143.09" y="349.17" width="5.4" height="5.4" fill="#ff1a1a"/>
<rect x="145.08" y="350.14" width="5.4" height="5.4" fill="#ff1a1a"/>
<rect x="147.06" y="352.16" width="5.4" height="5.4" fill="#ff1a1a"/>
<rect x="149.05" y="353.09" width="5.4" height="5.4" fill="#ff1a1a"/>
<rect x="151.03" y="354.27" width="5.4" height="5.4" fill="#ff1a1a"/>
<rect x="153.02" y="355.74" width="5.4" height="5.4" fill="#ff1a1a"/>
<rect x="155" y="356.95" width="5.4" height="5.4" fill="#ff1a1a"/>
<rect x="156.99" y="358.58" width="5.4" height="5.4" fill="#ff1a1a"/>
<rect x="158.97" y="359.79" width="5.4" height="5.4" fill="#ff1a1a"/>
<rect x="160.96" y="360.76" width="5.4" height="5.4" fill="#ff1a1a"/>
<rect x="162.94" y="362.47" width="5.4" height="5.4" fill="#ff1a1a"/>
<rect x="164.93" y="362.71" width="5.4" height="5.4" fill="#ff1a1a"/>
<rect x="166.91" y="364.03" width="5.4" height="5.4" fill="#ff1a1a"/>
<rect x="168.9" y="364.5" width="5.4" height="5.4" fill="#ff1a1a"/>
<rect x="170.88" y="365.73" width="5.4" height="5.4" fill="#ff1a1a"/>
<rect x="172.87" y="366.1" width="5.4" height="5.4" fill="#ff1a1a"/>
<rect x="174.85" y="367.37" width="5.4" height="5.4" fill="#ff1a1a"/>
<rect x="176.84" y="367.89" width="5.4" height="5.4" fill="#ff1a1a"/>
<rect x="178.82" y="369.93" width="5.4" height="5.4" fill="#ff1a1a"/>
<rect x="180.81" y="370.54" width="5.4" height="5.4" fill="#ff1a1a"/>
<rect x="182.79" y="370.86" width="5.4" height="5.4" fill="#ff1a1a"/>
<rect x="184.78" y="372.06" width="5.4" height="5.4" fill="#ff1a1a"/>
<rect x="186.77" y="373.39" width="5.4" height="5.4" fill="#ff1a1a"/>
<rect x="188.75" y="372.66" width="5.4" height="5.4" fill="#ff1a1a"/>
<rect x="190.74" y="374.4" width="5.4" height="5.4" fill="#ff1a1a"/>
<rect x="192.72" y="374.38" width="5.4" height="5.4" fill="#ff1a1a"/>
<rect x="194.71" y="375.08" width="5.4" height="5.4" fill="#ff1a1a"/>
<rect x="196.69" y="376.22" width="5.4" height="5.4" fill="#ff1a1a"/>
<rect x="198.68" y="376.27" width="5.4" height="5.4" fill="#ff1a1a"/>
<rect x="200.66" y="377.25" width="5.4" height="5.4" fill="#ff1a1a"/>
<rect x="202.65" y="378.35" width="5.4" height="5.4" fill="#ff1a1a"/>
<rect x="204.63" y="379.62" width="5.4" height="5.4" fill="#ff1a1a"/>
<rect x="206.62" y="379.4" width="5.4" height="5.4" fill="#ff1a1a"/>
<rect x="208.6" y="380.98" width="5.4" height="5.4" fill="#ff1a1a"/>
<rect x="210.59" y="381.58" width="5.4" height="5.4" fill="#ff1a1a"/>
<rect x="212.57" y="382.27" width="5.4" height="5.4" fill="#ff1a1a"/>
<rect x="214.56" y="382.7" width="5.4" height="5.4" fill="#ff1a1a"/>
<rect x="216.54" y="383.42" width="5.4" height="5.4" fill="#ff1a1a"/>
<rect x="218.53" y="383.5" width="5.4" height="5.4" fill="#ff1a1a"/>
<rect x="220.51" y="384.06" width="5.4" height="5.4" fill="#ff1a1a"/>
<rect x="222.5" y="384.41" width="5.4" height="5.4" fill="#ff1a1a"/>
<rect x="224.48" y="385.93" width="5.4" height="5.4" fill="#ff1a1a"/>
<rect x="226.47" y="385.59" width="5.4" height="5.4" fill="#ff1a1a"/>
<rect x="228.45" y="385.89" width="5.4" height="5.4" fill="#ff1a1a"/>
<rect x="230.44" y="386.21" width="5.4" height="5.4" fill="#ff1a1a"/>
<rect x="232.43" y="387.86" width="5.4" height="5.4" fill="#ff1a1a"/>
<rect x="234.41" y="388.35" width="5.4" height="5.4" fill="#ff1a1a"/>
<rect x="236.4" y="388.48" width="5.4" height="5.4" fill="#ff1a1a"/>
<rect x="238.38" y="388.3" width="5.4" height="5.4" fill="#ff1a1a"/>
<rect x="240.37" y="388.68" width="5.4" height="5.4" fill="#ff1a1a"/>
<rect x="242.35" y="389.2" width="5.4" height="5.4" fill="#ff1a1a"/>
<rect x="244.34" y="389.91" width="5.4" height="5.4" fill="#ff1a1a"/>
<rect x="246.32" y="389.87" width="5.4" height="5.4" fill="#ff1a1a"/>
<rect x="248.31" y="390.7" width="5.4" height="5.4" fill="#ff1a1a"/>
<rect x="250.29" y="390.71" width="5.4" height="5.4" fill="#ff1a1a"/>
<rect x="252.28" y="392.14" width="5.4" height="5.4" fill="#ff1a1a"/>
<rect x="254.26" y="392.47" width="5.4" height="5.4" fill="#ff1a1a"/>
<rect x="256.25" y="392.09" width="5.4" height="5.4" fill="#ff1a1a"/>
<rect x="258.23" y="391.92" width="5.4" height="5.4" fill="#ff1a1a"/>
<rect x="260.22" y="393.38" width="5.4" height="5.4" fill="#ff1a1a"/>
<rect x="262.2" y="392.64" width="5.4" height="5.4" fill="#ff1a1a"/>
<rect x="264.19" y="393.02" width="5.4" height="5.4" fill="#ff1a1a"/>
<rect x="266.17" y="392.76" width="5.4" height="5.4" fill="#ff1a1a"/>
<rect x="268.16" y="393.68" width="5.4" height="5.4" fill="#ff1a1a"/>
<rect x="270.14" y="394.13" width="5.4" height="5.4" fill="#ff1a1a"/>
<rect x="272.13" y="394.49" width="5.4" height="5.4" fill="#ff1a1a"/>
<rect x="274.11" y="394.31" width="5.4" height="5.4" fill="#ff1a1a"/>
<rect x="276.1" y="395.11" width="5.4" height="5.4" fill="#ff1a1a"/>
<path d="M52.49,325.7 L54.47,361.4 L56.46,373 L58.44,378.7 L60.43,381.8 L62.41,383.19 L64.4,384.58 L66.38,385.37 L68.37,385.79 L70.35,386.26 L72.34,387.02 L74.32,387.95 L76.31,388.05 L78.29,388.26 L80.28,388.79 L82.26,389.28 L84.25,388.95 L86.23,390.38 L88.22,390.42 L90.2,390.72 L92.19,390.81 L94.17,390.51 L96.16,390.71 L98.15,390.54 L100.13,391.36 L102.12,391.01 L104.1,391.34 L106.09,391.84 L108.07,392.12 L110.06,392.66 L112.04,392.65 L114.03,392.92 L116.01,393.43 L118,393.7 L119.98,394.34 L121.97,394.27 L123.95,395.62 L125.94,395.64 L127.92,395.22 L129.91,395.48 L131.89,395.74 L133.88,395.9 L135.86,395.75 L137.85,397.16 L139.83,397.88 L141.82,397.79 L143.81,398.35 L145.79,398.42 L147.78,398.98 L149.76,399.81 L151.75,400.27 L153.73,401.51 L155.72,401.26 L157.7,401.65 L159.69,403.32 L161.67,403.37 L163.66,403.46 L165.64,404.5 L167.63,404.43 L169.61,405.26 L171.6,406.02 L173.58,406.1 L175.57,406.12 L177.55,405.82 L179.54,406.17 L181.52,406.16 L183.51,407.1 L185.49,407.04 L187.48,407.75 L189.47,407.63 L191.45,407.92 L193.44,409.04 L195.42,409.67 L197.41,409.92 L199.39,410.28 L201.38,410.72 L203.36,411.04 L205.35,410.84 L207.33,411.6 L209.32,411.83 L211.3,412.03 L213.29,412.63 L215.27,413.54 L217.26,414.11 L219.24,415.23 L221.23,415.78 L223.21,415.4 L225.2,416.22 L227.18,416.52 L229.17,416.71 L231.15,416.24 L233.14,416.3 L235.13,416.54 L237.11,416.74 L239.1,416.98 L241.08,417.72 L243.07,418.28 L245.05,418.44 L247.04,418.24 L249.02,418.68 L251.01,419.03 L252.99,418.34 L254.98,419.19 L256.96,419.66 L258.95,419.67 L260.93,419.8 L262.92,419.64 L264.9,419.45 L266.89,420.35 L268.87,419.97 L270.86,420.69 L272.84,421.07 L274.83,420.54 L276.81,420.71 L278.8,421.54" fill="none" stroke="#1a1aff" stroke-width="0.9" stroke-linejoin="round" stroke-linecap="round"/>
<path d="M54.47,316.5 L56.46,352.3 L58.44,364.8 L60.43,372.5 L62.41,376.3 L64.4,379 L66.38,381 L68.37,381.2 L70.35,381.41 L72.34,382.7 L74.32,382.37 L76.31,383.82 L78.29,384.25 L80.28,384.47 L82.26,385.9 L84.25,385.85 L86.23,387.19 L88.22,386.81 L90.2,387.05 L92.19,387.78 L94.17,388.62 L96.16,387.7 L98.15,388.06 L100.13,388.9 L102.12,389.62 L104.1,389.22 L106.09,389.13 L108.07,389.86 L110.06,388.17 L112.04,389.27 L114.03,388.16 L116.01,387.73 L118,388.23 L119.98,389.83 L121.97,391.93 L123.95,392.2 L125.94,394.13 L127.92,394.12 L129.91,393.6 L131.89,393.78 L133.88,392.9 L135.86,392.8 L137.85,393.74 L139.83,395.22 L141.82,395.53 L143.81,396.06 L145.79,397.21 L147.78,397.71 L149.76,398.18 L151.75,399.75 L153.73,400.37 L155.72,400.42 L157.7,401.73 L159.69,402.43 L161.67,403.77 L163.66,404.31 L165.64,404.38 L167.63,406.27 L169.61,404.21 L171.6,404.01 L173.58,404.4 L175.57,403.8 L177.55,404.71 L179.54,404.36 L181.52,405.73 L183.51,406.25 L185.49,406.32 L187.48,407.06 L189.47,406.42 L191.45,407.29 L193.44,407.39 L195.42,407.63 L197.41,407.69 L199.39,408.56 L201.38,408.99 L203.36,408.5 L205.35,409.06 L207.33,408.9 L209.32,410.72 L211.3,411.4 L213.29,412.71 L215.27,413.2 L217.26,413.1 L219.24,414.02 L221.23,414.7 L223.21,413.9 L225.2,414.84 L227.18,414.6 L229.17,414.75 L231.15,414.89 L233.14,416.26 L235.13,415.47 L237.11,415.9 L239.1,416.36 L241.08,417.36 L243.07,416.33 L245.05,417.15 L247.04,417.55 L249.02,418.31 L251.01,418.4 L252.99,418.66 L254.98,417.91 L256.96,418.31 L258.95,418.41 L260.93,419.43 L262.92,419.74 L264.9,418.63 L266.89,418.86 L268.87,419.14 L270.86,419.33 L272.84,419.92 L274.83,420.27 L276.81,419.93 L278.8,419.71" fill="none" stroke="#1a1aff" stroke-width="0.9" stroke-linejoin="round" stroke-linecap="round"/>
<circle cx="52.49" cy="325.7" r="2.6" fill="#fff" stroke="#1a1aff" stroke-width="1.1"/>
<circle cx="54.47" cy="361.4" r="2.6" fill="#fff" stroke="#1a1aff" stroke-width="1.1"/>
<circle cx="56.46" cy="373" r="2.6" fill="#fff" stroke="#1a1aff" stroke-width="1.1"/>
<circle cx="58.44" cy="378.7" r="2.6" fill="#fff" stroke="#1a1aff" stroke-width="1.1"/>
<circle cx="60.43" cy="381.8" r="2.6" fill="#fff" stroke="#1a1aff" stroke-width="1.1"/>
<circle cx="62.41" cy="383.19" r="2.6" fill="#fff" stroke="#1a1aff" stroke-width="1.1"/>
<circle cx="64.4" cy="384.58" r="2.6" fill="#fff" stroke="#1a1aff" stroke-width="1.1"/>
<circle cx="66.38" cy="385.37" r="2.6" fill="#fff" stroke="#1a1aff" stroke-width="1.1"/>
<circle cx="68.37" cy="385.79" r="2.6" fill="#fff" stroke="#1a1aff" stroke-width="1.1"/>
<circle cx="70.35" cy="386.26" r="2.6" fill="#fff" stroke="#1a1aff" stroke-width="1.1"/>
<circle cx="72.34" cy="387.02" r="2.6" fill="#fff" stroke="#1a1aff" stroke-width="1.1"/>
<circle cx="74.32" cy="387.95" r="2.6" fill="#fff" stroke="#1a1aff" stroke-width="1.1"/>
<circle cx="76.31" cy="388.05" r="2.6" fill="#fff" stroke="#1a1aff" stroke-width="1.1"/>
<circle cx="78.29" cy="388.26" r="2.6" fill="#fff" stroke="#1a1aff" stroke-width="1.1"/>
<circle cx="80.28" cy="388.79" r="2.6" fill="#fff" stroke="#1a1aff" stroke-width="1.1"/>
<circle cx="82.26" cy="389.28" r="2.6" fill="#fff" stroke="#1a1aff" stroke-width="1.1"/>
<circle cx="84.25" cy="388.95" r="2.6" fill="#fff" stroke="#1a1aff" stroke-width="1.1"/>
<circle cx="86.23" cy="390.38" r="2.6" fill="#fff" stroke="#1a1aff" stroke-width="1.1"/>
<circle cx="88.22" cy="390.42" r="2.6" fill="#fff" stroke="#1a1aff" stroke-width="1.1"/>
<circle cx="90.2" cy="390.72" r="2.6" fill="#fff" stroke="#1a1aff" stroke-width="1.1"/>
<circle cx="92.19" cy="390.81" r="2.6" fill="#fff" stroke="#1a1aff" stroke-width="1.1"/>
<circle cx="94.17" cy="390.51" r="2.6" fill="#fff" stroke="#1a1aff" stroke-width="1.1"/>
<circle cx="96.16" cy="390.71" r="2.6" fill="#fff" stroke="#1a1aff" stroke-width="1.1"/>
<circle cx="98.15" cy="390.54" r="2.6" fill="#fff" stroke="#1a1aff" stroke-width="1.1"/>
<circle cx="100.13" cy="391.36" r="2.6" fill="#fff" stroke="#1a1aff" stroke-width="1.1"/>
<circle cx="102.12" cy="391.01" r="2.6" fill="#fff" stroke="#1a1aff" stroke-width="1.1"/>
<circle cx="104.1" cy="391.34" r="2.6" fill="#fff" stroke="#1a1aff" stroke-width="1.1"/>
<circle cx="106.09" cy="391.84" r="2.6" fill="#fff" stroke="#1a1aff" stroke-width="1.1"/>
<circle cx="108.07" cy="392.12" r="2.6" fill="#fff" stroke="#1a1aff" stroke-width="1.1"/>
<circle cx="110.06" cy="392.66" r="2.6" fill="#fff" stroke="#1a1aff" stroke-width="1.1"/>
<circle cx="112.04" cy="392.65" r="2.6" fill="#fff" stroke="#1a1aff" stroke-width="1.1"/>
<circle cx="114.03" cy="392.92" r="2.6" fill="#fff" stroke="#1a1aff" stroke-width="1.1"/>
<circle cx="116.01" cy="393.43" r="2.6" fill="#fff" stroke="#1a1aff" stroke-width="1.1"/>
<circle cx="118" cy="393.7" r="2.6" fill="#fff" stroke="#1a1aff" stroke-width="1.1"/>
<circle cx="119.98" cy="394.34" r="2.6" fill="#fff" stroke="#1a1aff" stroke-width="1.1"/>
<circle cx="121.97" cy="394.27" r="2.6" fill="#fff" stroke="#1a1aff" stroke-width="1.1"/>
<circle cx="123.95" cy="395.62" r="2.6" fill="#fff" stroke="#1a1aff" stroke-width="1.1"/>
<circle cx="125.94" cy="395.64" r="2.6" fill="#fff" stroke="#1a1aff" stroke-width="1.1"/>
<circle cx="127.92" cy="395.22" r="2.6" fill="#fff" stroke="#1a1aff" stroke-width="1.1"/>
<circle cx="129.91" cy="395.48" r="2.6" fill="#fff" stroke="#1a1aff" stroke-width="1.1"/>
<circle cx="131.89" cy="395.74" r="2.6" fill="#fff" stroke="#1a1aff" stroke-width="1.1"/>
<circle cx="133.88" cy="395.9" r="2.6" fill="#fff" stroke="#1a1aff" stroke-width="1.1"/>
<circle cx="135.86" cy="395.75" r="2.6" fill="#fff" stroke="#1a1aff" stroke-width="1.1"/>
<circle cx="137.85" cy="397.16" r="2.6" fill="#fff" stroke="#1a1aff" stroke-width="1.1"/>
<circle cx="139.83" cy="397.88" r="2.6" fill="#fff" stroke="#1a1aff" stroke-width="1.1"/>
<circle cx="141.82" cy="397.79" r="2.6" fill="#fff" stroke="#1a1aff" stroke-width="1.1"/>
<circle cx="143.81" cy="398.35" r="2.6" fill="#fff" stroke="#1a1aff" stroke-width="1.1"/>
<circle cx="145.79" cy="398.42" r="2.6" fill="#fff" stroke="#1a1aff" stroke-width="1.1"/>
<circle cx="147.78" cy="398.98" r="2.6" fill="#fff" stroke="#1a1aff" stroke-width="1.1"/>
<circle cx="149.76" cy="399.81" r="2.6" fill="#fff" stroke="#1a1aff" stroke-width="1.1"/>
<circle cx="151.75" cy="400.27" r="2.6" fill="#fff" stroke="#1a1aff" stroke-width="1.1"/>
<circle cx="153.73" cy="401.51" r="2.6" fill="#fff" stroke="#1a1aff" stroke-width="1.1"/>
<circle cx="155.72" cy="401.26" r="2.6" fill="#fff" stroke="#1a1aff" stroke-width="1.1"/>
<circle cx="157.7" cy="401.65" r="2.6" fill="#fff" stroke="#1a1aff" stroke-width="1.1"/>
<circle cx="159.69" cy="403.32" r="2.6" fill="#fff" stroke="#1a1aff" stroke-width="1.1"/>
<circle cx="161.67" cy="403.37" r="2.6" fill="#fff" stroke="#1a1aff" stroke-width="1.1"/>
<circle cx="163.66" cy="403.46" r="2.6" fill="#fff" stroke="#1a1aff" stroke-width="1.1"/>
<circle cx="165.64" cy="404.5" r="2.6" fill="#fff" stroke="#1a1aff" stroke-width="1.1"/>
<circle cx="167.63" cy="404.43" r="2.6" fill="#fff" stroke="#1a1aff" stroke-width="1.1"/>
<circle cx="169.61" cy="405.26" r="2.6" fill="#fff" stroke="#1a1aff" stroke-width="1.1"/>
<circle cx="171.6" cy="406.02" r="2.6" fill="#fff" stroke="#1a1aff" stroke-width="1.1"/>
<circle cx="173.58" cy="406.1" r="2.6" fill="#fff" stroke="#1a1aff" stroke-width="1.1"/>
<circle cx="175.57" cy="406.12" r="2.6" fill="#fff" stroke="#1a1aff" stroke-width="1.1"/>
<circle cx="177.55" cy="405.82" r="2.6" fill="#fff" stroke="#1a1aff" stroke-width="1.1"/>
<circle cx="179.54" cy="406.17" r="2.6" fill="#fff" stroke="#1a1aff" stroke-width="1.1"/>
<circle cx="181.52" cy="406.16" r="2.6" fill="#fff" stroke="#1a1aff" stroke-width="1.1"/>
<circle cx="183.51" cy="407.1" r="2.6" fill="#fff" stroke="#1a1aff" stroke-width="1.1"/>
<circle cx="185.49" cy="407.04" r="2.6" fill="#fff" stroke="#1a1aff" stroke-width="1.1"/>
<circle cx="187.48" cy="407.75" r="2.6" fill="#fff" stroke="#1a1aff" stroke-width="1.1"/>
<circle cx="189.47" cy="407.63" r="2.6" fill="#fff" stroke="#1a1aff" stroke-width="1.1"/>
<circle cx="191.45" cy="407.92" r="2.6" fill="#fff" stroke="#1a1aff" stroke-width="1.1"/>
<circle cx="193.44" cy="409.04" r="2.6" fill="#fff" stroke="#1a1aff" stroke-width="1.1"/>
<circle cx="195.42" cy="409.67" r="2.6" fill="#fff" stroke="#1a1aff" stroke-width="1.1"/>
<circle cx="197.41" cy="409.92" r="2.6" fill="#fff" stroke="#1a1aff" stroke-width="1.1"/>
<circle cx="199.39" cy="410.28" r="2.6" fill="#fff" stroke="#1a1aff" stroke-width="1.1"/>
<circle cx="201.38" cy="410.72" r="2.6" fill="#fff" stroke="#1a1aff" stroke-width="1.1"/>
<circle cx="203.36" cy="411.04" r="2.6" fill="#fff" stroke="#1a1aff" stroke-width="1.1"/>
<circle cx="205.35" cy="410.84" r="2.6" fill="#fff" stroke="#1a1aff" stroke-width="1.1"/>
<circle cx="207.33" cy="411.6" r="2.6" fill="#fff" stroke="#1a1aff" stroke-width="1.1"/>
<circle cx="209.32" cy="411.83" r="2.6" fill="#fff" stroke="#1a1aff" stroke-width="1.1"/>
<circle cx="211.3" cy="412.03" r="2.6" fill="#fff" stroke="#1a1aff" stroke-width="1.1"/>
<circle cx="213.29" cy="412.63" r="2.6" fill="#fff" stroke="#1a1aff" stroke-width="1.1"/>
<circle cx="215.27" cy="413.54" r="2.6" fill="#fff" stroke="#1a1aff" stroke-width="1.1"/>
<circle cx="217.26" cy="414.11" r="2.6" fill="#fff" stroke="#1a1aff" stroke-width="1.1"/>
<circle cx="219.24" cy="415.23" r="2.6" fill="#fff" stroke="#1a1aff" stroke-width="1.1"/>
<circle cx="221.23" cy="415.78" r="2.6" fill="#fff" stroke="#1a1aff" stroke-width="1.1"/>
<circle cx="223.21" cy="415.4" r="2.6" fill="#fff" stroke="#1a1aff" stroke-width="1.1"/>
<circle cx="225.2" cy="416.22" r="2.6" fill="#fff" stroke="#1a1aff" stroke-width="1.1"/>
<circle cx="227.18" cy="416.52" r="2.6" fill="#fff" stroke="#1a1aff" stroke-width="1.1"/>
<circle cx="229.17" cy="416.71" r="2.6" fill="#fff" stroke="#1a1aff" stroke-width="1.1"/>
<circle cx="231.15" cy="416.24" r="2.6" fill="#fff" stroke="#1a1aff" stroke-width="1.1"/>
<circle cx="233.14" cy="416.3" r="2.6" fill="#fff" stroke="#1a1aff" stroke-width="1.1"/>
<circle cx="235.13" cy="416.54" r="2.6" fill="#fff" stroke="#1a1aff" stroke-width="1.1"/>
<circle cx="237.11" cy="416.74" r="2.6" fill="#fff" stroke="#1a1aff" stroke-width="1.1"/>
<circle cx="239.1" cy="416.98" r="2.6" fill="#fff" stroke="#1a1aff" stroke-width="1.1"/>
<circle cx="241.08" cy="417.72" r="2.6" fill="#fff" stroke="#1a1aff" stroke-width="1.1"/>
<circle cx="243.07" cy="418.28" r="2.6" fill="#fff" stroke="#1a1aff" stroke-width="1.1"/>
<circle cx="245.05" cy="418.44" r="2.6" fill="#fff" stroke="#1a1aff" stroke-width="1.1"/>
<circle cx="247.04" cy="418.24" r="2.6" fill="#fff" stroke="#1a1aff" stroke-width="1.1"/>
<circle cx="249.02" cy="418.68" r="2.6" fill="#fff" stroke="#1a1aff" stroke-width="1.1"/>
<circle cx="251.01" cy="419.03" r="2.6" fill="#fff" stroke="#1a1aff" stroke-width="1.1"/>
<circle cx="252.99" cy="418.34" r="2.6" fill="#fff" stroke="#1a1aff" stroke-width="1.1"/>
<circle cx="254.98" cy="419.19" r="2.6" fill="#fff" stroke="#1a1aff" stroke-width="1.1"/>
<circle cx="256.96" cy="419.66" r="2.6" fill="#fff" stroke="#1a1aff" stroke-width="1.1"/>
<circle cx="258.95" cy="419.67" r="2.6" fill="#fff" stroke="#1a1aff" stroke-width="1.1"/>
<circle cx="260.93" cy="419.8" r="2.6" fill="#fff" stroke="#1a1aff" stroke-width="1.1"/>
<circle cx="262.92" cy="419.64" r="2.6" fill="#fff" stroke="#1a1aff" stroke-width="1.1"/>
<circle cx="264.9" cy="419.45" r="2.6" fill="#fff" stroke="#1a1aff" stroke-width="1.1"/>
<circle cx="266.89" cy="420.35" r="2.6" fill="#fff" stroke="#1a1aff" stroke-width="1.1"/>
<circle cx="268.87" cy="419.97" r="2.6" fill="#fff" stroke="#1a1aff" stroke-width="1.1"/>
<circle cx="270.86" cy="420.69" r="2.6" fill="#fff" stroke="#1a1aff" stroke-width="1.1"/>
<circle cx="272.84" cy="421.07" r="2.6" fill="#fff" stroke="#1a1aff" stroke-width="1.1"/>
<circle cx="274.83" cy="420.54" r="2.6" fill="#fff" stroke="#1a1aff" stroke-width="1.1"/>
<circle cx="276.81" cy="420.71" r="2.6" fill="#fff" stroke="#1a1aff" stroke-width="1.1"/>
<circle cx="278.8" cy="421.54" r="2.6" fill="#fff" stroke="#1a1aff" stroke-width="1.1"/>
<rect x="49.79" y="251.9" width="5.4" height="5.4" fill="#1a1aff"/>
<rect x="51.77" y="313.8" width="5.4" height="5.4" fill="#1a1aff"/>
<rect x="53.76" y="349.6" width="5.4" height="5.4" fill="#1a1aff"/>
<rect x="55.74" y="362.1" width="5.4" height="5.4" fill="#1a1aff"/>
<rect x="57.73" y="369.8" width="5.4" height="5.4" fill="#1a1aff"/>
<rect x="59.71" y="373.6" width="5.4" height="5.4" fill="#1a1aff"/>
<rect x="61.7" y="376.3" width="5.4" height="5.4" fill="#1a1aff"/>
<rect x="63.68" y="378.3" width="5.4" height="5.4" fill="#1a1aff"/>
<rect x="65.67" y="378.5" width="5.4" height="5.4" fill="#1a1aff"/>
<rect x="67.65" y="378.71" width="5.4" height="5.4" fill="#1a1aff"/>
<rect x="69.64" y="380" width="5.4" height="5.4" fill="#1a1aff"/>
<rect x="71.62" y="379.67" width="5.4" height="5.4" fill="#1a1aff"/>
<rect x="73.61" y="381.12" width="5.4" height="5.4" fill="#1a1aff"/>
<rect x="75.59" y="381.55" width="5.4" height="5.4" fill="#1a1aff"/>
<rect x="77.58" y="381.77" width="5.4" height="5.4" fill="#1a1aff"/>
<rect x="79.56" y="383.2" width="5.4" height="5.4" fill="#1a1aff"/>
<rect x="81.55" y="383.15" width="5.4" height="5.4" fill="#1a1aff"/>
<rect x="83.53" y="384.49" width="5.4" height="5.4" fill="#1a1aff"/>
<rect x="85.52" y="384.11" width="5.4" height="5.4" fill="#1a1aff"/>
<rect x="87.5" y="384.35" width="5.4" height="5.4" fill="#1a1aff"/>
<rect x="89.49" y="385.08" width="5.4" height="5.4" fill="#1a1aff"/>
<rect x="91.47" y="385.92" width="5.4" height="5.4" fill="#1a1aff"/>
<rect x="93.46" y="385" width="5.4" height="5.4" fill="#1a1aff"/>
<rect x="95.45" y="385.36" width="5.4" height="5.4" fill="#1a1aff"/>
<rect x="97.43" y="386.2" width="5.4" height="5.4" fill="#1a1aff"/>
<rect x="99.42" y="386.92" width="5.4" height="5.4" fill="#1a1aff"/>
<rect x="101.4" y="386.52" width="5.4" height="5.4" fill="#1a1aff"/>
<rect x="103.39" y="386.43" width="5.4" height="5.4" fill="#1a1aff"/>
<rect x="105.37" y="387.16" width="5.4" height="5.4" fill="#1a1aff"/>
<rect x="107.36" y="385.47" width="5.4" height="5.4" fill="#1a1aff"/>
<rect x="109.34" y="386.57" width="5.4" height="5.4" fill="#1a1aff"/>
<rect x="111.33" y="385.46" width="5.4" height="5.4" fill="#1a1aff"/>
<rect x="113.31" y="385.03" width="5.4" height="5.4" fill="#1a1aff"/>
<rect x="115.3" y="385.53" width="5.4" height="5.4" fill="#1a1aff"/>
<rect x="117.28" y="387.13" width="5.4" height="5.4" fill="#1a1aff"/>
<rect x="119.27" y="389.23" width="5.4" height="5.4" fill="#1a1aff"/>
<rect x="121.25" y="389.5" width="5.4" height="5.4" fill="#1a1aff"/>
<rect x="123.24" y="391.43" width="5.4" height="5.4" fill="#1a1aff"/>
<rect x="125.22" y="391.42" width="5.4" height="5.4" fill="#1a1aff"/>
<rect x="127.21" y="390.9" width="5.4" height="5.4" fill="#1a1aff"/>
<rect x="129.19" y="391.08" width="5.4" height="5.4" fill="#1a1aff"/>
<rect x="131.18" y="390.2" width="5.4" height="5.4" fill="#1a1aff"/>
<rect x="133.16" y="390.1" width="5.4" height="5.4" fill="#1a1aff"/>
<rect x="135.15" y="391.04" width="5.4" height="5.4" fill="#1a1aff"/>
<rect x="137.13" y="392.52" width="5.4" height="5.4" fill="#1a1aff"/>
<rect x="139.12" y="392.83" width="5.4" height="5.4" fill="#1a1aff"/>
<rect x="141.11" y="393.36" width="5.4" height="5.4" fill="#1a1aff"/>
<rect x="143.09" y="394.51" width="5.4" height="5.4" fill="#1a1aff"/>
<rect x="145.08" y="395.01" width="5.4" height="5.4" fill="#1a1aff"/>
<rect x="147.06" y="395.48" width="5.4" height="5.4" fill="#1a1aff"/>
<rect x="149.05" y="397.05" width="5.4" height="5.4" fill="#1a1aff"/>
<rect x="151.03" y="397.67" width="5.4" height="5.4" fill="#1a1aff"/>
<rect x="153.02" y="397.72" width="5.4" height="5.4" fill="#1a1aff"/>
<rect x="155" y="399.03" width="5.4" height="5.4" fill="#1a1aff"/>
<rect x="156.99" y="399.73" width="5.4" height="5.4" fill="#1a1aff"/>
<rect x="158.97" y="401.07" width="5.4" height="5.4" fill="#1a1aff"/>
<rect x="160.96" y="401.61" width="5.4" height="5.4" fill="#1a1aff"/>
<rect x="162.94" y="401.68" width="5.4" height="5.4" fill="#1a1aff"/>
<rect x="164.93" y="403.57" width="5.4" height="5.4" fill="#1a1aff"/>
<rect x="166.91" y="401.51" width="5.4" height="5.4" fill="#1a1aff"/>
<rect x="168.9" y="401.31" width="5.4" height="5.4" fill="#1a1aff"/>
<rect x="170.88" y="401.7" width="5.4" height="5.4" fill="#1a1aff"/>
<rect x="172.87" y="401.1" width="5.4" height="5.4" fill="#1a1aff"/>
<rect x="174.85" y="402.01" width="5.4" height="5.4" fill="#1a1aff"/>
<rect x="176.84" y="401.66" width="5.4" height="5.4" fill="#1a1aff"/>
<rect x="178.82" y="403.03" width="5.4" height="5.4" fill="#1a1aff"/>
<rect x="180.81" y="403.55" width="5.4" height="5.4" fill="#1a1aff"/>
<rect x="182.79" y="403.62" width="5.4" height="5.4" fill="#1a1aff"/>
<rect x="184.78" y="404.36" width="5.4" height="5.4" fill="#1a1aff"/>
<rect x="186.77" y="403.72" width="5.4" height="5.4" fill="#1a1aff"/>
<rect x="188.75" y="404.59" width="5.4" height="5.4" fill="#1a1aff"/>
<rect x="190.74" y="404.69" width="5.4" height="5.4" fill="#1a1aff"/>
<rect x="192.72" y="404.93" width="5.4" height="5.4" fill="#1a1aff"/>
<rect x="194.71" y="404.99" width="5.4" height="5.4" fill="#1a1aff"/>
<rect x="196.69" y="405.86" width="5.4" height="5.4" fill="#1a1aff"/>
<rect x="198.68" y="406.29" width="5.4" height="5.4" fill="#1a1aff"/>
<rect x="200.66" y="405.8" width="5.4" height="5.4" fill="#1a1aff"/>
<rect x="202.65" y="406.36" width="5.4" height="5.4" fill="#1a1aff"/>
<rect x="204.63" y="406.2" width="5.4" height="5.4" fill="#1a1aff"/>
<rect x="206.62" y="408.02" width="5.4" height="5.4" fill="#1a1aff"/>
<rect x="208.6" y="408.7" width="5.4" height="5.4" fill="#1a1aff"/>
<rect x="210.59" y="410.01" width="5.4" height="5.4" fill="#1a1aff"/>
<rect x="212.57" y="410.5" width="5.4" height="5.4" fill="#1a1aff"/>
<rect x="214.56" y="410.4" width="5.4" height="5.4" fill="#1a1aff"/>
<rect x="216.54" y="411.32" width="5.4" height="5.4" fill="#1a1aff"/>
<rect x="218.53" y="412" width="5.4" height="5.4" fill="#1a1aff"/>
<rect x="220.51" y="411.2" width="5.4" height="5.4" fill="#1a1aff"/>
<rect x="222.5" y="412.14" width="5.4" height="5.4" fill="#1a1aff"/>
<rect x="224.48" y="411.9" width="5.4" height="5.4" fill="#1a1aff"/>
<rect x="226.47" y="412.05" width="5.4" height="5.4" fill="#1a1aff"/>
<rect x="228.45" y="412.19" width="5.4" height="5.4" fill="#1a1aff"/>
<rect x="230.44" y="413.56" width="5.4" height="5.4" fill="#1a1aff"/>
<rect x="232.43" y="412.77" width="5.4" height="5.4" fill="#1a1aff"/>
<rect x="234.41" y="413.2" width="5.4" height="5.4" fill="#1a1aff"/>
<rect x="236.4" y="413.66" width="5.4" height="5.4" fill="#1a1aff"/>
<rect x="238.38" y="414.66" width="5.4" height="5.4" fill="#1a1aff"/>
<rect x="240.37" y="413.63" width="5.4" height="5.4" fill="#1a1aff"/>
<rect x="242.35" y="414.45" width="5.4" height="5.4" fill="#1a1aff"/>
<rect x="244.34" y="414.85" width="5.4" height="5.4" fill="#1a1aff"/>
<rect x="246.32" y="415.61" width="5.4" height="5.4" fill="#1a1aff"/>
<rect x="248.31" y="415.7" width="5.4" height="5.4" fill="#1a1aff"/>
<rect x="250.29" y="415.96" width="5.4" height="5.4" fill="#1a1aff"/>
<rect x="252.28" y="415.21" width="5.4" height="5.4" fill="#1a1aff"/>
<rect x="254.26" y="415.61" width="5.4" height="5.4" fill="#1a1aff"/>
<rect x="256.25" y="415.71" width="5.4" height="5.4" fill="#1a1aff"/>
<rect x="258.23" y="416.73" width="5.4" height="5.4" fill="#1a1aff"/>
<rect x="260.22" y="417.04" width="5.4" height="5.4" fill="#1a1aff"/>
<rect x="262.2" y="415.93" width="5.4" height="5.4" fill="#1a1aff"/>
<rect x="264.19" y="416.16" width="5.4" height="5.4" fill="#1a1aff"/>
<rect x="266.17" y="416.44" width="5.4" height="5.4" fill="#1a1aff"/>
<rect x="268.16" y="416.63" width="5.4" height="5.4" fill="#1a1aff"/>
<rect x="270.14" y="417.22" width="5.4" height="5.4" fill="#1a1aff"/>
<rect x="272.13" y="417.57" width="5.4" height="5.4" fill="#1a1aff"/>
<rect x="274.11" y="417.23" width="5.4" height="5.4" fill="#1a1aff"/>
<rect x="276.1" y="417.01" width="5.4" height="5.4" fill="#1a1aff"/>
<circle cx="52.49" cy="324.5" r="2.6" fill="#fff" stroke="#ff1a1a" stroke-width="1.1"/>
<path d="M52.49,346.8 L54.47,318.8 L56.46,295 L58.44,283.8 L60.43,272.5 L62.41,267 L64.4,263 L66.38,259.5 L68.37,258.49 L70.35,254.25 L72.34,253.06 L74.32,252.57 L76.31,255.28 L78.29,254.52 L80.28,251.28 L82.26,253.94 L84.25,254.44 L86.23,252.84 L88.22,251.32 L90.2,252.01 L92.19,250.16 L94.17,249.62 L96.16,253.81 L98.15,252.38 L100.13,251.82 L102.12,253.59 L104.1,251.37 L106.09,253.28 L108.07,253.06 L110.06,250.33 L112.04,250.49 L114.03,250.65 L116.01,250.4 L118,251.9 L119.98,250.44 L121.97,251.12 L123.95,249.84 L125.94,253.24 L127.92,250.78 L129.91,251.22 L131.89,251.75 L133.88,253.14 L135.86,250.99 L137.85,253.16 L139.83,251.31 L141.82,251.42 L143.81,251.36 L145.79,249.12 L147.78,250.96 L149.76,249.81 L151.75,249 L153.73,252.48 L155.72,249.7 L157.7,251 L159.69,252.09 L161.67,251.33 L163.66,250.29 L165.64,251.12 L167.63,251.26 L169.61,252.25 L171.6,249.21 L173.58,251.16 L175.57,249.73 L177.55,249.8 L179.54,251.93 L181.52,250.71 L183.51,250.89 L185.49,251.71 L187.48,252.32 L189.47,250.2 L191.45,250.9 L193.44,250.37 L195.42,250.34 L197.41,251.08 L199.39,249.97 L201.38,250.27 L203.36,249.98 L205.35,251.96 L207.33,250.84 L209.32,251.57 L211.3,251.8 L213.29,248.74 L215.27,250.01 L217.26,251.64 L219.24,251.13 L221.23,247.99 L223.21,247.86 L225.2,249.22 L227.18,247.54 L229.17,248.22 L231.15,247.43 L233.14,250 L235.13,250.45 L237.11,250.89 L239.1,247.57 L241.08,249.99 L243.07,249.69 L245.05,247.36 L247.04,250.56 L249.02,250.88 L251.01,247.53 L252.99,250.7 L254.98,248.21 L256.96,248.54 L258.95,250.7 L260.93,249.95 L262.92,246.95 L264.9,248.08 L266.89,248.4 L268.87,247.56 L270.86,246.88 L272.84,247.37 L274.83,249.09 L276.81,245.94 L278.8,248.24" fill="none" stroke="#1a1aff" stroke-width="0.9" stroke-linejoin="round" stroke-linecap="round"/>
<circle cx="52.49" cy="346.8" r="3.0" fill="#1a1aff"/><circle cx="51.44" cy="345.75" r="0.9" fill="#fff" fill-opacity="0.85"/>
<circle cx="54.47" cy="318.8" r="3.0" fill="#1a1aff"/><circle cx="53.42" cy="317.75" r="0.9" fill="#fff" fill-opacity="0.85"/>
<circle cx="56.46" cy="295" r="3.0" fill="#1a1aff"/><circle cx="55.41" cy="293.95" r="0.9" fill="#fff" fill-opacity="0.85"/>
<circle cx="58.44" cy="283.8" r="3.0" fill="#1a1aff"/><circle cx="57.39" cy="282.75" r="0.9" fill="#fff" fill-opacity="0.85"/>
<circle cx="60.43" cy="272.5" r="3.0" fill="#1a1aff"/><circle cx="59.38" cy="271.45" r="0.9" fill="#fff" fill-opacity="0.85"/>
<circle cx="62.41" cy="267" r="3.0" fill="#1a1aff"/><circle cx="61.36" cy="265.95" r="0.9" fill="#fff" fill-opacity="0.85"/>
<circle cx="64.4" cy="263" r="3.0" fill="#1a1aff"/><circle cx="63.35" cy="261.95" r="0.9" fill="#fff" fill-opacity="0.85"/>
<circle cx="66.38" cy="259.5" r="3.0" fill="#1a1aff"/><circle cx="65.33" cy="258.45" r="0.9" fill="#fff" fill-opacity="0.85"/>
<circle cx="68.37" cy="258.49" r="3.0" fill="#1a1aff"/><circle cx="67.32" cy="257.44" r="0.9" fill="#fff" fill-opacity="0.85"/>
<circle cx="70.35" cy="254.25" r="3.0" fill="#1a1aff"/><circle cx="69.3" cy="253.2" r="0.9" fill="#fff" fill-opacity="0.85"/>
<circle cx="72.34" cy="253.06" r="3.0" fill="#1a1aff"/><circle cx="71.29" cy="252.01" r="0.9" fill="#fff" fill-opacity="0.85"/>
<circle cx="74.32" cy="252.57" r="3.0" fill="#1a1aff"/><circle cx="73.27" cy="251.52" r="0.9" fill="#fff" fill-opacity="0.85"/>
<circle cx="76.31" cy="255.28" r="3.0" fill="#1a1aff"/><circle cx="75.26" cy="254.23" r="0.9" fill="#fff" fill-opacity="0.85"/>
<circle cx="78.29" cy="254.52" r="3.0" fill="#1a1aff"/><circle cx="77.24" cy="253.47" r="0.9" fill="#fff" fill-opacity="0.85"/>
<circle cx="80.28" cy="251.28" r="3.0" fill="#1a1aff"/><circle cx="79.23" cy="250.23" r="0.9" fill="#fff" fill-opacity="0.85"/>
<circle cx="82.26" cy="253.94" r="3.0" fill="#1a1aff"/><circle cx="81.21" cy="252.89" r="0.9" fill="#fff" fill-opacity="0.85"/>
<circle cx="84.25" cy="254.44" r="3.0" fill="#1a1aff"/><circle cx="83.2" cy="253.39" r="0.9" fill="#fff" fill-opacity="0.85"/>
<circle cx="86.23" cy="252.84" r="3.0" fill="#1a1aff"/><circle cx="85.18" cy="251.79" r="0.9" fill="#fff" fill-opacity="0.85"/>
<circle cx="88.22" cy="251.32" r="3.0" fill="#1a1aff"/><circle cx="87.17" cy="250.27" r="0.9" fill="#fff" fill-opacity="0.85"/>
<circle cx="90.2" cy="252.01" r="3.0" fill="#1a1aff"/><circle cx="89.15" cy="250.96" r="0.9" fill="#fff" fill-opacity="0.85"/>
<circle cx="92.19" cy="250.16" r="3.0" fill="#1a1aff"/><circle cx="91.14" cy="249.11" r="0.9" fill="#fff" fill-opacity="0.85"/>
<circle cx="94.17" cy="249.62" r="3.0" fill="#1a1aff"/><circle cx="93.12" cy="248.57" r="0.9" fill="#fff" fill-opacity="0.85"/>
<circle cx="96.16" cy="253.81" r="3.0" fill="#1a1aff"/><circle cx="95.11" cy="252.76" r="0.9" fill="#fff" fill-opacity="0.85"/>
<circle cx="98.15" cy="252.38" r="3.0" fill="#1a1aff"/><circle cx="97.1" cy="251.33" r="0.9" fill="#fff" fill-opacity="0.85"/>
<circle cx="100.13" cy="251.82" r="3.0" fill="#1a1aff"/><circle cx="99.08" cy="250.77" r="0.9" fill="#fff" fill-opacity="0.85"/>
<circle cx="102.12" cy="253.59" r="3.0" fill="#1a1aff"/><circle cx="101.07" cy="252.54" r="0.9" fill="#fff" fill-opacity="0.85"/>
<circle cx="104.1" cy="251.37" r="3.0" fill="#1a1aff"/><circle cx="103.05" cy="250.32" r="0.9" fill="#fff" fill-opacity="0.85"/>
<circle cx="106.09" cy="253.28" r="3.0" fill="#1a1aff"/><circle cx="105.04" cy="252.23" r="0.9" fill="#fff" fill-opacity="0.85"/>
<circle cx="108.07" cy="253.06" r="3.0" fill="#1a1aff"/><circle cx="107.02" cy="252.01" r="0.9" fill="#fff" fill-opacity="0.85"/>
<circle cx="110.06" cy="250.33" r="3.0" fill="#1a1aff"/><circle cx="109.01" cy="249.28" r="0.9" fill="#fff" fill-opacity="0.85"/>
<circle cx="112.04" cy="250.49" r="3.0" fill="#1a1aff"/><circle cx="110.99" cy="249.44" r="0.9" fill="#fff" fill-opacity="0.85"/>
<circle cx="114.03" cy="250.65" r="3.0" fill="#1a1aff"/><circle cx="112.98" cy="249.6" r="0.9" fill="#fff" fill-opacity="0.85"/>
<circle cx="116.01" cy="250.4" r="3.0" fill="#1a1aff"/><circle cx="114.96" cy="249.35" r="0.9" fill="#fff" fill-opacity="0.85"/>
<circle cx="118" cy="251.9" r="3.0" fill="#1a1aff"/><circle cx="116.95" cy="250.85" r="0.9" fill="#fff" fill-opacity="0.85"/>
<circle cx="119.98" cy="250.44" r="3.0" fill="#1a1aff"/><circle cx="118.93" cy="249.39" r="0.9" fill="#fff" fill-opacity="0.85"/>
<circle cx="121.97" cy="251.12" r="3.0" fill="#1a1aff"/><circle cx="120.92" cy="250.07" r="0.9" fill="#fff" fill-opacity="0.85"/>
<circle cx="123.95" cy="249.84" r="3.0" fill="#1a1aff"/><circle cx="122.9" cy="248.79" r="0.9" fill="#fff" fill-opacity="0.85"/>
<circle cx="125.94" cy="253.24" r="3.0" fill="#1a1aff"/><circle cx="124.89" cy="252.19" r="0.9" fill="#fff" fill-opacity="0.85"/>
<circle cx="127.92" cy="250.78" r="3.0" fill="#1a1aff"/><circle cx="126.87" cy="249.73" r="0.9" fill="#fff" fill-opacity="0.85"/>
<circle cx="129.91" cy="251.22" r="3.0" fill="#1a1aff"/><circle cx="128.86" cy="250.17" r="0.9" fill="#fff" fill-opacity="0.85"/>
<circle cx="131.89" cy="251.75" r="3.0" fill="#1a1aff"/><circle cx="130.84" cy="250.7" r="0.9" fill="#fff" fill-opacity="0.85"/>
<circle cx="133.88" cy="253.14" r="3.0" fill="#1a1aff"/><circle cx="132.83" cy="252.09" r="0.9" fill="#fff" fill-opacity="0.85"/>
<circle cx="135.86" cy="250.99" r="3.0" fill="#1a1aff"/><circle cx="134.81" cy="249.94" r="0.9" fill="#fff" fill-opacity="0.85"/>
<circle cx="137.85" cy="253.16" r="3.0" fill="#1a1aff"/><circle cx="136.8" cy="252.11" r="0.9" fill="#fff" fill-opacity="0.85"/>
<circle cx="139.83" cy="251.31" r="3.0" fill="#1a1aff"/><circle cx="138.78" cy="250.26" r="0.9" fill="#fff" fill-opacity="0.85"/>
<circle cx="141.82" cy="251.42" r="3.0" fill="#1a1aff"/><circle cx="140.77" cy="250.37" r="0.9" fill="#fff" fill-opacity="0.85"/>
<circle cx="143.81" cy="251.36" r="3.0" fill="#1a1aff"/><circle cx="142.76" cy="250.31" r="0.9" fill="#fff" fill-opacity="0.85"/>
<circle cx="145.79" cy="249.12" r="3.0" fill="#1a1aff"/><circle cx="144.74" cy="248.07" r="0.9" fill="#fff" fill-opacity="0.85"/>
<circle cx="147.78" cy="250.96" r="3.0" fill="#1a1aff"/><circle cx="146.73" cy="249.91" r="0.9" fill="#fff" fill-opacity="0.85"/>
<circle cx="149.76" cy="249.81" r="3.0" fill="#1a1aff"/><circle cx="148.71" cy="248.76" r="0.9" fill="#fff" fill-opacity="0.85"/>
<circle cx="151.75" cy="249" r="3.0" fill="#1a1aff"/><circle cx="150.7" cy="247.95" r="0.9" fill="#fff" fill-opacity="0.85"/>
<circle cx="153.73" cy="252.48" r="3.0" fill="#1a1aff"/><circle cx="152.68" cy="251.43" r="0.9" fill="#fff" fill-opacity="0.85"/>
<circle cx="155.72" cy="249.7" r="3.0" fill="#1a1aff"/><circle cx="154.67" cy="248.65" r="0.9" fill="#fff" fill-opacity="0.85"/>
<circle cx="157.7" cy="251" r="3.0" fill="#1a1aff"/><circle cx="156.65" cy="249.95" r="0.9" fill="#fff" fill-opacity="0.85"/>
<circle cx="159.69" cy="252.09" r="3.0" fill="#1a1aff"/><circle cx="158.64" cy="251.04" r="0.9" fill="#fff" fill-opacity="0.85"/>
<circle cx="161.67" cy="251.33" r="3.0" fill="#1a1aff"/><circle cx="160.62" cy="250.28" r="0.9" fill="#fff" fill-opacity="0.85"/>
<circle cx="163.66" cy="250.29" r="3.0" fill="#1a1aff"/><circle cx="162.61" cy="249.24" r="0.9" fill="#fff" fill-opacity="0.85"/>
<circle cx="165.64" cy="251.12" r="3.0" fill="#1a1aff"/><circle cx="164.59" cy="250.07" r="0.9" fill="#fff" fill-opacity="0.85"/>
<circle cx="167.63" cy="251.26" r="3.0" fill="#1a1aff"/><circle cx="166.58" cy="250.21" r="0.9" fill="#fff" fill-opacity="0.85"/>
<circle cx="169.61" cy="252.25" r="3.0" fill="#1a1aff"/><circle cx="168.56" cy="251.2" r="0.9" fill="#fff" fill-opacity="0.85"/>
<circle cx="171.6" cy="249.21" r="3.0" fill="#1a1aff"/><circle cx="170.55" cy="248.16" r="0.9" fill="#fff" fill-opacity="0.85"/>
<circle cx="173.58" cy="251.16" r="3.0" fill="#1a1aff"/><circle cx="172.53" cy="250.11" r="0.9" fill="#fff" fill-opacity="0.85"/>
<circle cx="175.57" cy="249.73" r="3.0" fill="#1a1aff"/><circle cx="174.52" cy="248.68" r="0.9" fill="#fff" fill-opacity="0.85"/>
<circle cx="177.55" cy="249.8" r="3.0" fill="#1a1aff"/><circle cx="176.5" cy="248.75" r="0.9" fill="#fff" fill-opacity="0.85"/>
<circle cx="179.54" cy="251.93" r="3.0" fill="#1a1aff"/><circle cx="178.49" cy="250.88" r="0.9" fill="#fff" fill-opacity="0.85"/>
<circle cx="181.52" cy="250.71" r="3.0" fill="#1a1aff"/><circle cx="180.47" cy="249.66" r="0.9" fill="#fff" fill-opacity="0.85"/>
<circle cx="183.51" cy="250.89" r="3.0" fill="#1a1aff"/><circle cx="182.46" cy="249.84" r="0.9" fill="#fff" fill-opacity="0.85"/>
<circle cx="185.49" cy="251.71" r="3.0" fill="#1a1aff"/><circle cx="184.44" cy="250.66" r="0.9" fill="#fff" fill-opacity="0.85"/>
<circle cx="187.48" cy="252.32" r="3.0" fill="#1a1aff"/><circle cx="186.43" cy="251.27" r="0.9" fill="#fff" fill-opacity="0.85"/>
<circle cx="189.47" cy="250.2" r="3.0" fill="#1a1aff"/><circle cx="188.42" cy="249.15" r="0.9" fill="#fff" fill-opacity="0.85"/>
<circle cx="191.45" cy="250.9" r="3.0" fill="#1a1aff"/><circle cx="190.4" cy="249.85" r="0.9" fill="#fff" fill-opacity="0.85"/>
<circle cx="193.44" cy="250.37" r="3.0" fill="#1a1aff"/><circle cx="192.39" cy="249.32" r="0.9" fill="#fff" fill-opacity="0.85"/>
<circle cx="195.42" cy="250.34" r="3.0" fill="#1a1aff"/><circle cx="194.37" cy="249.29" r="0.9" fill="#fff" fill-opacity="0.85"/>
<circle cx="197.41" cy="251.08" r="3.0" fill="#1a1aff"/><circle cx="196.36" cy="250.03" r="0.9" fill="#fff" fill-opacity="0.85"/>
<circle cx="199.39" cy="249.97" r="3.0" fill="#1a1aff"/><circle cx="198.34" cy="248.92" r="0.9" fill="#fff" fill-opacity="0.85"/>
<circle cx="201.38" cy="250.27" r="3.0" fill="#1a1aff"/><circle cx="200.33" cy="249.22" r="0.9" fill="#fff" fill-opacity="0.85"/>
<circle cx="203.36" cy="249.98" r="3.0" fill="#1a1aff"/><circle cx="202.31" cy="248.93" r="0.9" fill="#fff" fill-opacity="0.85"/>
<circle cx="205.35" cy="251.96" r="3.0" fill="#1a1aff"/><circle cx="204.3" cy="250.91" r="0.9" fill="#fff" fill-opacity="0.85"/>
<circle cx="207.33" cy="250.84" r="3.0" fill="#1a1aff"/><circle cx="206.28" cy="249.79" r="0.9" fill="#fff" fill-opacity="0.85"/>
<circle cx="209.32" cy="251.57" r="3.0" fill="#1a1aff"/><circle cx="208.27" cy="250.52" r="0.9" fill="#fff" fill-opacity="0.85"/>
<circle cx="211.3" cy="251.8" r="3.0" fill="#1a1aff"/><circle cx="210.25" cy="250.75" r="0.9" fill="#fff" fill-opacity="0.85"/>
<circle cx="213.29" cy="248.74" r="3.0" fill="#1a1aff"/><circle cx="212.24" cy="247.69" r="0.9" fill="#fff" fill-opacity="0.85"/>
<circle cx="215.27" cy="250.01" r="3.0" fill="#1a1aff"/><circle cx="214.22" cy="248.96" r="0.9" fill="#fff" fill-opacity="0.85"/>
<circle cx="217.26" cy="251.64" r="3.0" fill="#1a1aff"/><circle cx="216.21" cy="250.59" r="0.9" fill="#fff" fill-opacity="0.85"/>
<circle cx="219.24" cy="251.13" r="3.0" fill="#1a1aff"/><circle cx="218.19" cy="250.08" r="0.9" fill="#fff" fill-opacity="0.85"/>
<circle cx="221.23" cy="247.99" r="3.0" fill="#1a1aff"/><circle cx="220.18" cy="246.94" r="0.9" fill="#fff" fill-opacity="0.85"/>
<circle cx="223.21" cy="247.86" r="3.0" fill="#1a1aff"/><circle cx="222.16" cy="246.81" r="0.9" fill="#fff" fill-opacity="0.85"/>
<circle cx="225.2" cy="249.22" r="3.0" fill="#1a1aff"/><circle cx="224.15" cy="248.17" r="0.9" fill="#fff" fill-opacity="0.85"/>
<circle cx="227.18" cy="247.54" r="3.0" fill="#1a1aff"/><circle cx="226.13" cy="246.49" r="0.9" fill="#fff" fill-opacity="0.85"/>
<circle cx="229.17" cy="248.22" r="3.0" fill="#1a1aff"/><circle cx="228.12" cy="247.17" r="0.9" fill="#fff" fill-opacity="0.85"/>
<circle cx="231.15" cy="247.43" r="3.0" fill="#1a1aff"/><circle cx="230.1" cy="246.38" r="0.9" fill="#fff" fill-opacity="0.85"/>
<circle cx="233.14" cy="250" r="3.0" fill="#1a1aff"/><circle cx="232.09" cy="248.95" r="0.9" fill="#fff" fill-opacity="0.85"/>
<circle cx="235.13" cy="250.45" r="3.0" fill="#1a1aff"/><circle cx="234.08" cy="249.4" r="0.9" fill="#fff" fill-opacity="0.85"/>
<circle cx="237.11" cy="250.89" r="3.0" fill="#1a1aff"/><circle cx="236.06" cy="249.84" r="0.9" fill="#fff" fill-opacity="0.85"/>
<circle cx="239.1" cy="247.57" r="3.0" fill="#1a1aff"/><circle cx="238.05" cy="246.52" r="0.9" fill="#fff" fill-opacity="0.85"/>
<circle cx="241.08" cy="249.99" r="3.0" fill="#1a1aff"/><circle cx="240.03" cy="248.94" r="0.9" fill="#fff" fill-opacity="0.85"/>
<circle cx="243.07" cy="249.69" r="3.0" fill="#1a1aff"/><circle cx="242.02" cy="248.64" r="0.9" fill="#fff" fill-opacity="0.85"/>
<circle cx="245.05" cy="247.36" r="3.0" fill="#1a1aff"/><circle cx="244" cy="246.31" r="0.9" fill="#fff" fill-opacity="0.85"/>
<circle cx="247.04" cy="250.56" r="3.0" fill="#1a1aff"/><circle cx="245.99" cy="249.51" r="0.9" fill="#fff" fill-opacity="0.85"/>
<circle cx="249.02" cy="250.88" r="3.0" fill="#1a1aff"/><circle cx="247.97" cy="249.83" r="0.9" fill="#fff" fill-opacity="0.85"/>
<circle cx="251.01" cy="247.53" r="3.0" fill="#1a1aff"/><circle cx="249.96" cy="246.48" r="0.9" fill="#fff" fill-opacity="0.85"/>
<circle cx="252.99" cy="250.7" r="3.0" fill="#1a1aff"/><circle cx="251.94" cy="249.65" r="0.9" fill="#fff" fill-opacity="0.85"/>
<circle cx="254.98" cy="248.21" r="3.0" fill="#1a1aff"/><circle cx="253.93" cy="247.16" r="0.9" fill="#fff" fill-opacity="0.85"/>
<circle cx="256.96" cy="248.54" r="3.0" fill="#1a1aff"/><circle cx="255.91" cy="247.49" r="0.9" fill="#fff" fill-opacity="0.85"/>
<circle cx="258.95" cy="250.7" r="3.0" fill="#1a1aff"/><circle cx="257.9" cy="249.65" r="0.9" fill="#fff" fill-opacity="0.85"/>
<circle cx="260.93" cy="249.95" r="3.0" fill="#1a1aff"/><circle cx="259.88" cy="248.9" r="0.9" fill="#fff" fill-opacity="0.85"/>
<circle cx="262.92" cy="246.95" r="3.0" fill="#1a1aff"/><circle cx="261.87" cy="245.9" r="0.9" fill="#fff" fill-opacity="0.85"/>
<circle cx="264.9" cy="248.08" r="3.0" fill="#1a1aff"/><circle cx="263.85" cy="247.03" r="0.9" fill="#fff" fill-opacity="0.85"/>
<circle cx="266.89" cy="248.4" r="3.0" fill="#1a1aff"/><circle cx="265.84" cy="247.35" r="0.9" fill="#fff" fill-opacity="0.85"/>
<circle cx="268.87" cy="247.56" r="3.0" fill="#1a1aff"/><circle cx="267.82" cy="246.51" r="0.9" fill="#fff" fill-opacity="0.85"/>
<circle cx="270.86" cy="246.88" r="3.0" fill="#1a1aff"/><circle cx="269.81" cy="245.83" r="0.9" fill="#fff" fill-opacity="0.85"/>
<circle cx="272.84" cy="247.37" r="3.0" fill="#1a1aff"/><circle cx="271.79" cy="246.32" r="0.9" fill="#fff" fill-opacity="0.85"/>
<circle cx="274.83" cy="249.09" r="3.0" fill="#1a1aff"/><circle cx="273.78" cy="248.04" r="0.9" fill="#fff" fill-opacity="0.85"/>
<circle cx="276.81" cy="245.94" r="3.0" fill="#1a1aff"/><circle cx="275.76" cy="244.89" r="0.9" fill="#fff" fill-opacity="0.85"/>
<circle cx="278.8" cy="248.24" r="3.0" fill="#1a1aff"/><circle cx="277.75" cy="247.19" r="0.9" fill="#fff" fill-opacity="0.85"/>
<path d="M52.49,344.4 L54.47,268 L56.46,260.7 L58.44,257.3 L60.43,254.7 L62.41,253 L64.4,251.7 L66.38,251.73 L68.37,252.17 L70.35,251.26 L72.34,252.57 L74.32,251.72 L76.31,250.78 L78.29,250.71 L80.28,251.66 L82.26,251.56 L84.25,251.24 L86.23,250.89 L88.22,251.27 L90.2,251.19 L92.19,252.22 L94.17,250.52 L96.16,251.99 L98.15,252.14 L100.13,250.68 L102.12,252.27 L104.1,251.82 L106.09,252.17 L108.07,250.92 L110.06,251.06 L112.04,251.08 L114.03,252.27 L116.01,251.43 L118,250.95 L119.98,251.06 L121.97,250.73 L123.95,250.25 L125.94,250.33 L127.92,251.77 L129.91,250.65 L131.89,251.93 L133.88,250.53 L135.86,250.54 L137.85,251.01 L139.83,250.34 L141.82,250.68 L143.81,251.82 L145.79,251.66 L147.78,251.49 L149.76,251.1 L151.75,251.64 L153.73,251.67 L155.72,250.87 L157.7,251.18 L159.69,249.82 L161.67,251.16 L163.66,250.57 L165.64,251.15 L167.63,250.91 L169.61,250.17 L171.6,249.65 L173.58,251.37 L175.57,249.72 L177.55,250.37 L179.54,250.07 L181.52,249.93 L183.51,250.77 L185.49,251.2 L187.48,249.73 L189.47,250.48 L191.45,249.72 L193.44,250.19 L195.42,249.82 L197.41,249.32 L199.39,249.27 L201.38,249.32 L203.36,250.67 L205.35,249.81 L207.33,249.21 L209.32,250.54 L211.3,250.68 L213.29,249.54 L215.27,248.88 L217.26,248.94 L219.24,248.69 L221.23,249.15 L223.21,248.6 L225.2,248.86 L227.18,248.85 L229.17,249.43 L231.15,250.02 L233.14,249.7 L235.13,248.99 L237.11,248.94 L239.1,249.12 L241.08,248.78 L243.07,248.66 L245.05,248.07 L247.04,248.45 L249.02,249.79 L251.01,248.06 L252.99,248.77 L254.98,248.98 L256.96,249.41 L258.95,248.07 L260.93,248.13 L262.92,248.05 L264.9,248.3 L266.89,248.35 L268.87,249.33 L270.86,249.07 L272.84,249.08 L274.83,247.33 L276.81,247.31 L278.8,248.62" fill="none" stroke="#ff1a1a" stroke-width="0.9" stroke-linejoin="round" stroke-linecap="round"/>
<circle cx="52.49" cy="344.4" r="3.0" fill="#ff1a1a"/><circle cx="51.44" cy="343.35" r="0.9" fill="#fff" fill-opacity="0.85"/>
<circle cx="54.47" cy="268" r="3.0" fill="#ff1a1a"/><circle cx="53.42" cy="266.95" r="0.9" fill="#fff" fill-opacity="0.85"/>
<circle cx="56.46" cy="260.7" r="3.0" fill="#ff1a1a"/><circle cx="55.41" cy="259.65" r="0.9" fill="#fff" fill-opacity="0.85"/>
<circle cx="58.44" cy="257.3" r="3.0" fill="#ff1a1a"/><circle cx="57.39" cy="256.25" r="0.9" fill="#fff" fill-opacity="0.85"/>
<circle cx="60.43" cy="254.7" r="3.0" fill="#ff1a1a"/><circle cx="59.38" cy="253.65" r="0.9" fill="#fff" fill-opacity="0.85"/>
<circle cx="62.41" cy="253" r="3.0" fill="#ff1a1a"/><circle cx="61.36" cy="251.95" r="0.9" fill="#fff" fill-opacity="0.85"/>
<circle cx="64.4" cy="251.7" r="3.0" fill="#ff1a1a"/><circle cx="63.35" cy="250.65" r="0.9" fill="#fff" fill-opacity="0.85"/>
<circle cx="66.38" cy="251.73" r="3.0" fill="#ff1a1a"/><circle cx="65.33" cy="250.68" r="0.9" fill="#fff" fill-opacity="0.85"/>
<circle cx="68.37" cy="252.17" r="3.0" fill="#ff1a1a"/><circle cx="67.32" cy="251.12" r="0.9" fill="#fff" fill-opacity="0.85"/>
<circle cx="70.35" cy="251.26" r="3.0" fill="#ff1a1a"/><circle cx="69.3" cy="250.21" r="0.9" fill="#fff" fill-opacity="0.85"/>
<circle cx="72.34" cy="252.57" r="3.0" fill="#ff1a1a"/><circle cx="71.29" cy="251.52" r="0.9" fill="#fff" fill-opacity="0.85"/>
<circle cx="74.32" cy="251.72" r="3.0" fill="#ff1a1a"/><circle cx="73.27" cy="250.67" r="0.9" fill="#fff" fill-opacity="0.85"/>
<circle cx="76.31" cy="250.78" r="3.0" fill="#ff1a1a"/><circle cx="75.26" cy="249.73" r="0.9" fill="#fff" fill-opacity="0.85"/>
<circle cx="78.29" cy="250.71" r="3.0" fill="#ff1a1a"/><circle cx="77.24" cy="249.66" r="0.9" fill="#fff" fill-opacity="0.85"/>
<circle cx="80.28" cy="251.66" r="3.0" fill="#ff1a1a"/><circle cx="79.23" cy="250.61" r="0.9" fill="#fff" fill-opacity="0.85"/>
<circle cx="82.26" cy="251.56" r="3.0" fill="#ff1a1a"/><circle cx="81.21" cy="250.51" r="0.9" fill="#fff" fill-opacity="0.85"/>
<circle cx="84.25" cy="251.24" r="3.0" fill="#ff1a1a"/><circle cx="83.2" cy="250.19" r="0.9" fill="#fff" fill-opacity="0.85"/>
<circle cx="86.23" cy="250.89" r="3.0" fill="#ff1a1a"/><circle cx="85.18" cy="249.84" r="0.9" fill="#fff" fill-opacity="0.85"/>
<circle cx="88.22" cy="251.27" r="3.0" fill="#ff1a1a"/><circle cx="87.17" cy="250.22" r="0.9" fill="#fff" fill-opacity="0.85"/>
<circle cx="90.2" cy="251.19" r="3.0" fill="#ff1a1a"/><circle cx="89.15" cy="250.14" r="0.9" fill="#fff" fill-opacity="0.85"/>
<circle cx="92.19" cy="252.22" r="3.0" fill="#ff1a1a"/><circle cx="91.14" cy="251.17" r="0.9" fill="#fff" fill-opacity="0.85"/>
<circle cx="94.17" cy="250.52" r="3.0" fill="#ff1a1a"/><circle cx="93.12" cy="249.47" r="0.9" fill="#fff" fill-opacity="0.85"/>
<circle cx="96.16" cy="251.99" r="3.0" fill="#ff1a1a"/><circle cx="95.11" cy="250.94" r="0.9" fill="#fff" fill-opacity="0.85"/>
<circle cx="98.15" cy="252.14" r="3.0" fill="#ff1a1a"/><circle cx="97.1" cy="251.09" r="0.9" fill="#fff" fill-opacity="0.85"/>
<circle cx="100.13" cy="250.68" r="3.0" fill="#ff1a1a"/><circle cx="99.08" cy="249.63" r="0.9" fill="#fff" fill-opacity="0.85"/>
<circle cx="102.12" cy="252.27" r="3.0" fill="#ff1a1a"/><circle cx="101.07" cy="251.22" r="0.9" fill="#fff" fill-opacity="0.85"/>
<circle cx="104.1" cy="251.82" r="3.0" fill="#ff1a1a"/><circle cx="103.05" cy="250.77" r="0.9" fill="#fff" fill-opacity="0.85"/>
<circle cx="106.09" cy="252.17" r="3.0" fill="#ff1a1a"/><circle cx="105.04" cy="251.12" r="0.9" fill="#fff" fill-opacity="0.85"/>
<circle cx="108.07" cy="250.92" r="3.0" fill="#ff1a1a"/><circle cx="107.02" cy="249.87" r="0.9" fill="#fff" fill-opacity="0.85"/>
<circle cx="110.06" cy="251.06" r="3.0" fill="#ff1a1a"/><circle cx="109.01" cy="250.01" r="0.9" fill="#fff" fill-opacity="0.85"/>
<circle cx="112.04" cy="251.08" r="3.0" fill="#ff1a1a"/><circle cx="110.99" cy="250.03" r="0.9" fill="#fff" fill-opacity="0.85"/>
<circle cx="114.03" cy="252.27" r="3.0" fill="#ff1a1a"/><circle cx="112.98" cy="251.22" r="0.9" fill="#fff" fill-opacity="0.85"/>
<circle cx="116.01" cy="251.43" r="3.0" fill="#ff1a1a"/><circle cx="114.96" cy="250.38" r="0.9" fill="#fff" fill-opacity="0.85"/>
<circle cx="118" cy="250.95" r="3.0" fill="#ff1a1a"/><circle cx="116.95" cy="249.9" r="0.9" fill="#fff" fill-opacity="0.85"/>
<circle cx="119.98" cy="251.06" r="3.0" fill="#ff1a1a"/><circle cx="118.93" cy="250.01" r="0.9" fill="#fff" fill-opacity="0.85"/>
<circle cx="121.97" cy="250.73" r="3.0" fill="#ff1a1a"/><circle cx="120.92" cy="249.68" r="0.9" fill="#fff" fill-opacity="0.85"/>
<circle cx="123.95" cy="250.25" r="3.0" fill="#ff1a1a"/><circle cx="122.9" cy="249.2" r="0.9" fill="#fff" fill-opacity="0.85"/>
<circle cx="125.94" cy="250.33" r="3.0" fill="#ff1a1a"/><circle cx="124.89" cy="249.28" r="0.9" fill="#fff" fill-opacity="0.85"/>
<circle cx="127.92" cy="251.77" r="3.0" fill="#ff1a1a"/><circle cx="126.87" cy="250.72" r="0.9" fill="#fff" fill-opacity="0.85"/>
<circle cx="129.91" cy="250.65" r="3.0" fill="#ff1a1a"/><circle cx="128.86" cy="249.6" r="0.9" fill="#fff" fill-opacity="0.85"/>
<circle cx="131.89" cy="251.93" r="3.0" fill="#ff1a1a"/><circle cx="130.84" cy="250.88" r="0.9" fill="#fff" fill-opacity="0.85"/>
<circle cx="133.88" cy="250.53" r="3.0" fill="#ff1a1a"/><circle cx="132.83" cy="249.48" r="0.9" fill="#fff" fill-opacity="0.85"/>
<circle cx="135.86" cy="250.54" r="3.0" fill="#ff1a1a"/><circle cx="134.81" cy="249.49" r="0.9" fill="#fff" fill-opacity="0.85"/>
<circle cx="137.85" cy="251.01" r="3.0" fill="#ff1a1a"/><circle cx="136.8" cy="249.96" r="0.9" fill="#fff" fill-opacity="0.85"/>
<circle cx="139.83" cy="250.34" r="3.0" fill="#ff1a1a"/><circle cx="138.78" cy="249.29" r="0.9" fill="#fff" fill-opacity="0.85"/>
<circle cx="141.82" cy="250.68" r="3.0" fill="#ff1a1a"/><circle cx="140.77" cy="249.63" r="0.9" fill="#fff" fill-opacity="0.85"/>
<circle cx="143.81" cy="251.82" r="3.0" fill="#ff1a1a"/><circle cx="142.76" cy="250.77" r="0.9" fill="#fff" fill-opacity="0.85"/>
<circle cx="145.79" cy="251.66" r="3.0" fill="#ff1a1a"/><circle cx="144.74" cy="250.61" r="0.9" fill="#fff" fill-opacity="0.85"/>
<circle cx="147.78" cy="251.49" r="3.0" fill="#ff1a1a"/><circle cx="146.73" cy="250.44" r="0.9" fill="#fff" fill-opacity="0.85"/>
<circle cx="149.76" cy="251.1" r="3.0" fill="#ff1a1a"/><circle cx="148.71" cy="250.05" r="0.9" fill="#fff" fill-opacity="0.85"/>
<circle cx="151.75" cy="251.64" r="3.0" fill="#ff1a1a"/><circle cx="150.7" cy="250.59" r="0.9" fill="#fff" fill-opacity="0.85"/>
<circle cx="153.73" cy="251.67" r="3.0" fill="#ff1a1a"/><circle cx="152.68" cy="250.62" r="0.9" fill="#fff" fill-opacity="0.85"/>
<circle cx="155.72" cy="250.87" r="3.0" fill="#ff1a1a"/><circle cx="154.67" cy="249.82" r="0.9" fill="#fff" fill-opacity="0.85"/>
<circle cx="157.7" cy="251.18" r="3.0" fill="#ff1a1a"/><circle cx="156.65" cy="250.13" r="0.9" fill="#fff" fill-opacity="0.85"/>
<circle cx="159.69" cy="249.82" r="3.0" fill="#ff1a1a"/><circle cx="158.64" cy="248.77" r="0.9" fill="#fff" fill-opacity="0.85"/>
<circle cx="161.67" cy="251.16" r="3.0" fill="#ff1a1a"/><circle cx="160.62" cy="250.11" r="0.9" fill="#fff" fill-opacity="0.85"/>
<circle cx="163.66" cy="250.57" r="3.0" fill="#ff1a1a"/><circle cx="162.61" cy="249.52" r="0.9" fill="#fff" fill-opacity="0.85"/>
<circle cx="165.64" cy="251.15" r="3.0" fill="#ff1a1a"/><circle cx="164.59" cy="250.1" r="0.9" fill="#fff" fill-opacity="0.85"/>
<circle cx="167.63" cy="250.91" r="3.0" fill="#ff1a1a"/><circle cx="166.58" cy="249.86" r="0.9" fill="#fff" fill-opacity="0.85"/>
<circle cx="169.61" cy="250.17" r="3.0" fill="#ff1a1a"/><circle cx="168.56" cy="249.12" r="0.9" fill="#fff" fill-opacity="0.85"/>
<circle cx="171.6" cy="249.65" r="3.0" fill="#ff1a1a"/><circle cx="170.55" cy="248.6" r="0.9" fill="#fff" fill-opacity="0.85"/>
<circle cx="173.58" cy="251.37" r="3.0" fill="#ff1a1a"/><circle cx="172.53" cy="250.32" r="0.9" fill="#fff" fill-opacity="0.85"/>
<circle cx="175.57" cy="249.72" r="3.0" fill="#ff1a1a"/><circle cx="174.52" cy="248.67" r="0.9" fill="#fff" fill-opacity="0.85"/>
<circle cx="177.55" cy="250.37" r="3.0" fill="#ff1a1a"/><circle cx="176.5" cy="249.32" r="0.9" fill="#fff" fill-opacity="0.85"/>
<circle cx="179.54" cy="250.07" r="3.0" fill="#ff1a1a"/><circle cx="178.49" cy="249.02" r="0.9" fill="#fff" fill-opacity="0.85"/>
<circle cx="181.52" cy="249.93" r="3.0" fill="#ff1a1a"/><circle cx="180.47" cy="248.88" r="0.9" fill="#fff" fill-opacity="0.85"/>
<circle cx="183.51" cy="250.77" r="3.0" fill="#ff1a1a"/><circle cx="182.46" cy="249.72" r="0.9" fill="#fff" fill-opacity="0.85"/>
<circle cx="185.49" cy="251.2" r="3.0" fill="#ff1a1a"/><circle cx="184.44" cy="250.15" r="0.9" fill="#fff" fill-opacity="0.85"/>
<circle cx="187.48" cy="249.73" r="3.0" fill="#ff1a1a"/><circle cx="186.43" cy="248.68" r="0.9" fill="#fff" fill-opacity="0.85"/>
<circle cx="189.47" cy="250.48" r="3.0" fill="#ff1a1a"/><circle cx="188.42" cy="249.43" r="0.9" fill="#fff" fill-opacity="0.85"/>
<circle cx="191.45" cy="249.72" r="3.0" fill="#ff1a1a"/><circle cx="190.4" cy="248.67" r="0.9" fill="#fff" fill-opacity="0.85"/>
<circle cx="193.44" cy="250.19" r="3.0" fill="#ff1a1a"/><circle cx="192.39" cy="249.14" r="0.9" fill="#fff" fill-opacity="0.85"/>
<circle cx="195.42" cy="249.82" r="3.0" fill="#ff1a1a"/><circle cx="194.37" cy="248.77" r="0.9" fill="#fff" fill-opacity="0.85"/>
<circle cx="197.41" cy="249.32" r="3.0" fill="#ff1a1a"/><circle cx="196.36" cy="248.27" r="0.9" fill="#fff" fill-opacity="0.85"/>
<circle cx="199.39" cy="249.27" r="3.0" fill="#ff1a1a"/><circle cx="198.34" cy="248.22" r="0.9" fill="#fff" fill-opacity="0.85"/>
<circle cx="201.38" cy="249.32" r="3.0" fill="#ff1a1a"/><circle cx="200.33" cy="248.27" r="0.9" fill="#fff" fill-opacity="0.85"/>
<circle cx="203.36" cy="250.67" r="3.0" fill="#ff1a1a"/><circle cx="202.31" cy="249.62" r="0.9" fill="#fff" fill-opacity="0.85"/>
<circle cx="205.35" cy="249.81" r="3.0" fill="#ff1a1a"/><circle cx="204.3" cy="248.76" r="0.9" fill="#fff" fill-opacity="0.85"/>
<circle cx="207.33" cy="249.21" r="3.0" fill="#ff1a1a"/><circle cx="206.28" cy="248.16" r="0.9" fill="#fff" fill-opacity="0.85"/>
<circle cx="209.32" cy="250.54" r="3.0" fill="#ff1a1a"/><circle cx="208.27" cy="249.49" r="0.9" fill="#fff" fill-opacity="0.85"/>
<circle cx="211.3" cy="250.68" r="3.0" fill="#ff1a1a"/><circle cx="210.25" cy="249.63" r="0.9" fill="#fff" fill-opacity="0.85"/>
<circle cx="213.29" cy="249.54" r="3.0" fill="#ff1a1a"/><circle cx="212.24" cy="248.49" r="0.9" fill="#fff" fill-opacity="0.85"/>
<circle cx="215.27" cy="248.88" r="3.0" fill="#ff1a1a"/><circle cx="214.22" cy="247.83" r="0.9" fill="#fff" fill-opacity="0.85"/>
<circle cx="217.26" cy="248.94" r="3.0" fill="#ff1a1a"/><circle cx="216.21" cy="247.89" r="0.9" fill="#fff" fill-opacity="0.85"/>
<circle cx="219.24" cy="248.69" r="3.0" fill="#ff1a1a"/><circle cx="218.19" cy="247.64" r="0.9" fill="#fff" fill-opacity="0.85"/>
<circle cx="221.23" cy="249.15" r="3.0" fill="#ff1a1a"/><circle cx="220.18" cy="248.1" r="0.9" fill="#fff" fill-opacity="0.85"/>
<circle cx="223.21" cy="248.6" r="3.0" fill="#ff1a1a"/><circle cx="222.16" cy="247.55" r="0.9" fill="#fff" fill-opacity="0.85"/>
<circle cx="225.2" cy="248.86" r="3.0" fill="#ff1a1a"/><circle cx="224.15" cy="247.81" r="0.9" fill="#fff" fill-opacity="0.85"/>
<circle cx="227.18" cy="248.85" r="3.0" fill="#ff1a1a"/><circle cx="226.13" cy="247.8" r="0.9" fill="#fff" fill-opacity="0.85"/>
<circle cx="229.17" cy="249.43" r="3.0" fill="#ff1a1a"/><circle cx="228.12" cy="248.38" r="0.9" fill="#fff" fill-opacity="0.85"/>
<circle cx="231.15" cy="250.02" r="3.0" fill="#ff1a1a"/><circle cx="230.1" cy="248.97" r="0.9" fill="#fff" fill-opacity="0.85"/>
<circle cx="233.14" cy="249.7" r="3.0" fill="#ff1a1a"/><circle cx="232.09" cy="248.65" r="0.9" fill="#fff" fill-opacity="0.85"/>
<circle cx="235.13" cy="248.99" r="3.0" fill="#ff1a1a"/><circle cx="234.08" cy="247.94" r="0.9" fill="#fff" fill-opacity="0.85"/>
<circle cx="237.11" cy="248.94" r="3.0" fill="#ff1a1a"/><circle cx="236.06" cy="247.89" r="0.9" fill="#fff" fill-opacity="0.85"/>
<circle cx="239.1" cy="249.12" r="3.0" fill="#ff1a1a"/><circle cx="238.05" cy="248.07" r="0.9" fill="#fff" fill-opacity="0.85"/>
<circle cx="241.08" cy="248.78" r="3.0" fill="#ff1a1a"/><circle cx="240.03" cy="247.73" r="0.9" fill="#fff" fill-opacity="0.85"/>
<circle cx="243.07" cy="248.66" r="3.0" fill="#ff1a1a"/><circle cx="242.02" cy="247.61" r="0.9" fill="#fff" fill-opacity="0.85"/>
<circle cx="245.05" cy="248.07" r="3.0" fill="#ff1a1a"/><circle cx="244" cy="247.02" r="0.9" fill="#fff" fill-opacity="0.85"/>
<circle cx="247.04" cy="248.45" r="3.0" fill="#ff1a1a"/><circle cx="245.99" cy="247.4" r="0.9" fill="#fff" fill-opacity="0.85"/>
<circle cx="249.02" cy="249.79" r="3.0" fill="#ff1a1a"/><circle cx="247.97" cy="248.74" r="0.9" fill="#fff" fill-opacity="0.85"/>
<circle cx="251.01" cy="248.06" r="3.0" fill="#ff1a1a"/><circle cx="249.96" cy="247.01" r="0.9" fill="#fff" fill-opacity="0.85"/>
<circle cx="252.99" cy="248.77" r="3.0" fill="#ff1a1a"/><circle cx="251.94" cy="247.72" r="0.9" fill="#fff" fill-opacity="0.85"/>
<circle cx="254.98" cy="248.98" r="3.0" fill="#ff1a1a"/><circle cx="253.93" cy="247.93" r="0.9" fill="#fff" fill-opacity="0.85"/>
<circle cx="256.96" cy="249.41" r="3.0" fill="#ff1a1a"/><circle cx="255.91" cy="248.36" r="0.9" fill="#fff" fill-opacity="0.85"/>
<circle cx="258.95" cy="248.07" r="3.0" fill="#ff1a1a"/><circle cx="257.9" cy="247.02" r="0.9" fill="#fff" fill-opacity="0.85"/>
<circle cx="260.93" cy="248.13" r="3.0" fill="#ff1a1a"/><circle cx="259.88" cy="247.08" r="0.9" fill="#fff" fill-opacity="0.85"/>
<circle cx="262.92" cy="248.05" r="3.0" fill="#ff1a1a"/><circle cx="261.87" cy="247" r="0.9" fill="#fff" fill-opacity="0.85"/>
<circle cx="264.9" cy="248.3" r="3.0" fill="#ff1a1a"/><circle cx="263.85" cy="247.25" r="0.9" fill="#fff" fill-opacity="0.85"/>
<circle cx="266.89" cy="248.35" r="3.0" fill="#ff1a1a"/><circle cx="265.84" cy="247.3" r="0.9" fill="#fff" fill-opacity="0.85"/>
<circle cx="268.87" cy="249.33" r="3.0" fill="#ff1a1a"/><circle cx="267.82" cy="248.28" r="0.9" fill="#fff" fill-opacity="0.85"/>
<circle cx="270.86" cy="249.07" r="3.0" fill="#ff1a1a"/><circle cx="269.81" cy="248.02" r="0.9" fill="#fff" fill-opacity="0.85"/>
<circle cx="272.84" cy="249.08" r="3.0" fill="#ff1a1a"/><circle cx="271.79" cy="248.03" r="0.9" fill="#fff" fill-opacity="0.85"/>
<circle cx="274.83" cy="247.33" r="3.0" fill="#ff1a1a"/><circle cx="273.78" cy="246.28" r="0.9" fill="#fff" fill-opacity="0.85"/>
<circle cx="276.81" cy="247.31" r="3.0" fill="#ff1a1a"/><circle cx="275.76" cy="246.26" r="0.9" fill="#fff" fill-opacity="0.85"/>
<circle cx="278.8" cy="248.62" r="3.0" fill="#ff1a1a"/><circle cx="277.75" cy="247.57" r="0.9" fill="#fff" fill-opacity="0.85"/>
<circle cx="278.8" cy="248.24" r="3.0" fill="#1a1aff"/><circle cx="277.75" cy="247.19" r="0.9" fill="#fff" fill-opacity="0.85"/>
<text x="232.8" y="387.2" font-family="Liberation Serif" font-weight="bold" font-size="11" fill="#ff1a1a" text-anchor="start" >GeS-G</text>
<text x="237.3" y="413.2" font-family="Liberation Serif" font-weight="bold" font-size="11" fill="#1a1aff" text-anchor="start" >GeS</text>
<line x1="131" y1="286.8" x2="151" y2="286.8" stroke="#1a1aff" stroke-width="1.2"/>
<circle cx="141" cy="286.8" r="3.3" fill="#1a1aff"/><circle cx="139.84" cy="285.65" r="0.99" fill="#fff" fill-opacity="0.85"/>
<line x1="155" y1="286.8" x2="175" y2="286.8" stroke="#ff1a1a" stroke-width="1.2"/>
<circle cx="165" cy="286.8" r="3.3" fill="#ff1a1a"/><circle cx="163.84" cy="285.65" r="0.99" fill="#fff" fill-opacity="0.85"/>
<text x="180" y="290" font-family="Liberation Serif" font-weight="bold" font-size="9.6" fill="#111" text-anchor="start" >Coulimbic Efficiency</text>
<line x1="131" y1="298.8" x2="151" y2="298.8" stroke="#1a1aff" stroke-width="1.2"/>
<circle cx="141" cy="298.8" r="3.0" fill="#fff" stroke="#1a1aff" stroke-width="1.1"/>
<line x1="155" y1="298.8" x2="175" y2="298.8" stroke="#ff1a1a" stroke-width="1.2"/>
<circle cx="165" cy="298.8" r="3.0" fill="#fff" stroke="#ff1a1a" stroke-width="1.1"/>
<text x="180" y="302" font-family="Liberation Serif" font-weight="bold" font-size="9.6" fill="#111" text-anchor="start" >Charge Capacity</text>
<line x1="131" y1="310" x2="151" y2="310" stroke="#1a1aff" stroke-width="1.2"/>
<rect x="138" y="307" width="6" height="6" fill="#1a1aff"/>
<line x1="155" y1="310" x2="175" y2="310" stroke="#ff1a1a" stroke-width="1.2"/>
<rect x="162" y="307" width="6" height="6" fill="#ff1a1a"/>
<text x="180" y="313.2" font-family="Liberation Serif" font-weight="bold" font-size="9.6" fill="#111" text-anchor="start" >Discharge Capacity</text>
<line x1="363.3" y1="244.3" x2="591.5" y2="244.3" stroke="#222" stroke-width="1.3"/>
<line x1="363.3" y1="428.3" x2="591.5" y2="428.3" stroke="#222" stroke-width="1.3"/>
<line x1="363.3" y1="244.3" x2="363.3" y2="257.2" stroke="#222" stroke-width="1.3"/>
<line x1="363.3" y1="260.4" x2="363.3" y2="428.3" stroke="#222" stroke-width="1.3"/>
<line x1="591.5" y1="244.3" x2="591.5" y2="256.6" stroke="#222" stroke-width="1.3"/>
<line x1="591.5" y1="259.8" x2="591.5" y2="428.3" stroke="#222" stroke-width="1.3"/>
<polygon points="359.5,257.8 367,254.6 367,258.9 359.5,262.2" fill="#fff"/>
<line x1="359.8" y1="257.6" x2="367.2" y2="254.6" stroke="#111" stroke-width="1.2"/>
<line x1="359.8" y1="261.5" x2="367.2" y2="258.3" stroke="#111" stroke-width="1.2"/>
<line x1="587.7" y1="257" x2="595.3" y2="254" stroke="#111" stroke-width="1.2"/>
<line x1="587.7" y1="261.6" x2="595.3" y2="258.6" stroke="#111" stroke-width="1.2"/>
<line x1="359.7" y1="428.3" x2="363.3" y2="428.3" stroke="#222" stroke-width="1.1"/>
<text x="357" y="431.6" font-family="Liberation Serif" font-weight="bold" font-size="9.8" fill="#111" text-anchor="end" >0</text>
<line x1="361.3" y1="410.25" x2="363.3" y2="410.25" stroke="#222" stroke-width="1.1"/>
<line x1="359.7" y1="392.19" x2="363.3" y2="392.19" stroke="#222" stroke-width="1.1"/>
<text x="357" y="395.5" font-family="Liberation Serif" font-weight="bold" font-size="9.8" fill="#111" text-anchor="end" >150</text>
<line x1="361.3" y1="374.14" x2="363.3" y2="374.14" stroke="#222" stroke-width="1.1"/>
<line x1="359.7" y1="356.09" x2="363.3" y2="356.09" stroke="#222" stroke-width="1.1"/>
<text x="357" y="359.39" font-family="Liberation Serif" font-weight="bold" font-size="9.8" fill="#111" text-anchor="end" >300</text>
<line x1="361.3" y1="338.04" x2="363.3" y2="338.04" stroke="#222" stroke-width="1.1"/>
<line x1="359.7" y1="319.99" x2="363.3" y2="319.99" stroke="#222" stroke-width="1.1"/>
<text x="357" y="323.29" font-family="Liberation Serif" font-weight="bold" font-size="9.8" fill="#111" text-anchor="end" >450</text>
<line x1="361.3" y1="301.93" x2="363.3" y2="301.93" stroke="#222" stroke-width="1.1"/>
<line x1="359.7" y1="283.88" x2="363.3" y2="283.88" stroke="#222" stroke-width="1.1"/>
<text x="357" y="287.18" font-family="Liberation Serif" font-weight="bold" font-size="9.8" fill="#111" text-anchor="end" >600</text>
<line x1="361.3" y1="265.83" x2="363.3" y2="265.83" stroke="#222" stroke-width="1.1"/>
<line x1="359.7" y1="256.6" x2="363.3" y2="256.6" stroke="#222" stroke-width="1.1"/>
<text x="357" y="259.9" font-family="Liberation Serif" font-weight="bold" font-size="9.8" fill="#111" text-anchor="end" >1000</text>
<line x1="359.7" y1="244.3" x2="363.3" y2="244.3" stroke="#222" stroke-width="1.1"/>
<text x="357" y="247.6" font-family="Liberation Serif" font-weight="bold" font-size="9.8" fill="#111" text-anchor="end" >1050</text>
<line x1="363.3" y1="428.3" x2="363.3" y2="431.8" stroke="#222" stroke-width="1.1"/>
<text x="363.3" y="442.5" font-family="Liberation Serif" font-weight="bold" font-size="9.8" fill="#111" text-anchor="middle" >0</text>
<line x1="386.05" y1="428.3" x2="386.05" y2="430.3" stroke="#222" stroke-width="1.1"/>
<line x1="408.8" y1="428.3" x2="408.8" y2="431.8" stroke="#222" stroke-width="1.1"/>
<text x="408.8" y="442.5" font-family="Liberation Serif" font-weight="bold" font-size="9.8" fill="#111" text-anchor="middle" >10</text>
<line x1="431.55" y1="428.3" x2="431.55" y2="430.3" stroke="#222" stroke-width="1.1"/>
<line x1="454.3" y1="428.3" x2="454.3" y2="431.8" stroke="#222" stroke-width="1.1"/>
<text x="454.3" y="442.5" font-family="Liberation Serif" font-weight="bold" font-size="9.8" fill="#111" text-anchor="middle" >20</text>
<line x1="477.05" y1="428.3" x2="477.05" y2="430.3" stroke="#222" stroke-width="1.1"/>
<line x1="499.8" y1="428.3" x2="499.8" y2="431.8" stroke="#222" stroke-width="1.1"/>
<text x="499.8" y="442.5" font-family="Liberation Serif" font-weight="bold" font-size="9.8" fill="#111" text-anchor="middle" >30</text>
<line x1="522.55" y1="428.3" x2="522.55" y2="430.3" stroke="#222" stroke-width="1.1"/>
<line x1="545.3" y1="428.3" x2="545.3" y2="431.8" stroke="#222" stroke-width="1.1"/>
<text x="545.3" y="442.5" font-family="Liberation Serif" font-weight="bold" font-size="9.8" fill="#111" text-anchor="middle" >40</text>
<line x1="568.05" y1="428.3" x2="568.05" y2="430.3" stroke="#222" stroke-width="1.1"/>
<line x1="590.8" y1="428.3" x2="590.8" y2="431.8" stroke="#222" stroke-width="1.1"/>
<text x="590.8" y="442.5" font-family="Liberation Serif" font-weight="bold" font-size="9.8" fill="#111" text-anchor="middle" >50</text>
<text x="477.4" y="452.4" font-family="Liberation Serif" font-weight="bold" font-size="10.5" fill="#111" text-anchor="middle" >Cycle Number (n)</text>
<text transform="translate(335.3,336.4) rotate(-90)" font-family="Liberation Serif" font-weight="bold" font-size="10.5" fill="#111" text-anchor="middle">Specific Capacity(mAhg<tspan dy="-3.5" font-size="6.8">-1</tspan><tspan dy="3.5">)</tspan></text>
<text x="310.8" y="244.6" font-family="Liberation Serif" font-weight="normal" font-size="21.7" fill="#111" text-anchor="start" >(d)</text>
<path d="M367.85,361.2 L372.4,347.2 L376.95,356.5 L381.5,360.7 L386.05,362.6 L390.6,364.4 L395.15,365.5 L399.7,367 L404.25,367.5 L408.8,367.7 L413.35,399.2 L417.9,399.6 L422.45,399.58 L427,399.55 L431.55,399.52 L436.1,399.5 L440.65,399.48 L445.2,399.45 L449.75,399.42 L454.3,399.4 L458.85,411.4 L463.4,411 L467.95,411.3 L472.5,411.6 L477.05,411.9 L481.6,412.2 L486.15,412.5 L490.7,412.8 L495.25,413.1 L499.8,413.4 L504.35,418.2 L508.9,419.2 L513.45,419.43 L518,419.65 L522.55,419.88 L527.1,420.1 L531.65,420.32 L536.2,420.55 L540.75,420.77 L545.3,421 L549.85,379.5 L554.4,375.4 L558.95,376 L563.5,376.3 L568.05,377.2 L572.6,378 L577.15,378.6 L581.7,379.2 L586.25,378.2 L590.8,379.2" fill="none" stroke="#2a2a2a" stroke-width="0.9" stroke-linejoin="round" stroke-linecap="round"/>
<circle cx="367.85" cy="361.2" r="2.45" fill="#fff" stroke="#2a2a2a" stroke-width="1.0"/>
<circle cx="372.4" cy="347.2" r="2.45" fill="#fff" stroke="#2a2a2a" stroke-width="1.0"/>
<circle cx="376.95" cy="356.5" r="2.45" fill="#fff" stroke="#2a2a2a" stroke-width="1.0"/>
<circle cx="381.5" cy="360.7" r="2.45" fill="#fff" stroke="#2a2a2a" stroke-width="1.0"/>
<circle cx="386.05" cy="362.6" r="2.45" fill="#fff" stroke="#2a2a2a" stroke-width="1.0"/>
<circle cx="390.6" cy="364.4" r="2.45" fill="#fff" stroke="#2a2a2a" stroke-width="1.0"/>
<circle cx="395.15" cy="365.5" r="2.45" fill="#fff" stroke="#2a2a2a" stroke-width="1.0"/>
<circle cx="399.7" cy="367" r="2.45" fill="#fff" stroke="#2a2a2a" stroke-width="1.0"/>
<circle cx="404.25" cy="367.5" r="2.45" fill="#fff" stroke="#2a2a2a" stroke-width="1.0"/>
<circle cx="408.8" cy="367.7" r="2.45" fill="#fff" stroke="#2a2a2a" stroke-width="1.0"/>
<circle cx="413.35" cy="399.2" r="2.45" fill="#fff" stroke="#2a2a2a" stroke-width="1.0"/>
<circle cx="417.9" cy="399.6" r="2.45" fill="#fff" stroke="#2a2a2a" stroke-width="1.0"/>
<circle cx="422.45" cy="399.58" r="2.45" fill="#fff" stroke="#2a2a2a" stroke-width="1.0"/>
<circle cx="427" cy="399.55" r="2.45" fill="#fff" stroke="#2a2a2a" stroke-width="1.0"/>
<circle cx="431.55" cy="399.52" r="2.45" fill="#fff" stroke="#2a2a2a" stroke-width="1.0"/>
<circle cx="436.1" cy="399.5" r="2.45" fill="#fff" stroke="#2a2a2a" stroke-width="1.0"/>
<circle cx="440.65" cy="399.48" r="2.45" fill="#fff" stroke="#2a2a2a" stroke-width="1.0"/>
<circle cx="445.2" cy="399.45" r="2.45" fill="#fff" stroke="#2a2a2a" stroke-width="1.0"/>
<circle cx="449.75" cy="399.42" r="2.45" fill="#fff" stroke="#2a2a2a" stroke-width="1.0"/>
<circle cx="454.3" cy="399.4" r="2.45" fill="#fff" stroke="#2a2a2a" stroke-width="1.0"/>
<circle cx="458.85" cy="411.4" r="2.45" fill="#fff" stroke="#2a2a2a" stroke-width="1.0"/>
<circle cx="463.4" cy="411" r="2.45" fill="#fff" stroke="#2a2a2a" stroke-width="1.0"/>
<circle cx="467.95" cy="411.3" r="2.45" fill="#fff" stroke="#2a2a2a" stroke-width="1.0"/>
<circle cx="472.5" cy="411.6" r="2.45" fill="#fff" stroke="#2a2a2a" stroke-width="1.0"/>
<circle cx="477.05" cy="411.9" r="2.45" fill="#fff" stroke="#2a2a2a" stroke-width="1.0"/>
<circle cx="481.6" cy="412.2" r="2.45" fill="#fff" stroke="#2a2a2a" stroke-width="1.0"/>
<circle cx="486.15" cy="412.5" r="2.45" fill="#fff" stroke="#2a2a2a" stroke-width="1.0"/>
<circle cx="490.7" cy="412.8" r="2.45" fill="#fff" stroke="#2a2a2a" stroke-width="1.0"/>
<circle cx="495.25" cy="413.1" r="2.45" fill="#fff" stroke="#2a2a2a" stroke-width="1.0"/>
<circle cx="499.8" cy="413.4" r="2.45" fill="#fff" stroke="#2a2a2a" stroke-width="1.0"/>
<circle cx="504.35" cy="418.2" r="2.45" fill="#fff" stroke="#2a2a2a" stroke-width="1.0"/>
<circle cx="508.9" cy="419.2" r="2.45" fill="#fff" stroke="#2a2a2a" stroke-width="1.0"/>
<circle cx="513.45" cy="419.43" r="2.45" fill="#fff" stroke="#2a2a2a" stroke-width="1.0"/>
<circle cx="518" cy="419.65" r="2.45" fill="#fff" stroke="#2a2a2a" stroke-width="1.0"/>
<circle cx="522.55" cy="419.88" r="2.45" fill="#fff" stroke="#2a2a2a" stroke-width="1.0"/>
<circle cx="527.1" cy="420.1" r="2.45" fill="#fff" stroke="#2a2a2a" stroke-width="1.0"/>
<circle cx="531.65" cy="420.32" r="2.45" fill="#fff" stroke="#2a2a2a" stroke-width="1.0"/>
<circle cx="536.2" cy="420.55" r="2.45" fill="#fff" stroke="#2a2a2a" stroke-width="1.0"/>
<circle cx="540.75" cy="420.77" r="2.45" fill="#fff" stroke="#2a2a2a" stroke-width="1.0"/>
<circle cx="545.3" cy="421" r="2.45" fill="#fff" stroke="#2a2a2a" stroke-width="1.0"/>
<circle cx="549.85" cy="379.5" r="2.45" fill="#fff" stroke="#2a2a2a" stroke-width="1.0"/>
<circle cx="554.4" cy="375.4" r="2.45" fill="#fff" stroke="#2a2a2a" stroke-width="1.0"/>
<circle cx="558.95" cy="376" r="2.45" fill="#fff" stroke="#2a2a2a" stroke-width="1.0"/>
<circle cx="563.5" cy="376.3" r="2.45" fill="#fff" stroke="#2a2a2a" stroke-width="1.0"/>
<circle cx="568.05" cy="377.2" r="2.45" fill="#fff" stroke="#2a2a2a" stroke-width="1.0"/>
<circle cx="572.6" cy="378" r="2.45" fill="#fff" stroke="#2a2a2a" stroke-width="1.0"/>
<circle cx="577.15" cy="378.6" r="2.45" fill="#fff" stroke="#2a2a2a" stroke-width="1.0"/>
<circle cx="581.7" cy="379.2" r="2.45" fill="#fff" stroke="#2a2a2a" stroke-width="1.0"/>
<circle cx="586.25" cy="378.2" r="2.45" fill="#fff" stroke="#2a2a2a" stroke-width="1.0"/>
<circle cx="590.8" cy="379.2" r="2.45" fill="#fff" stroke="#2a2a2a" stroke-width="1.0"/>
<path d="M367.85,282.7 L372.4,302.8 L376.95,337.5 L381.5,348.9 L386.05,353.3 L390.6,357.4 L395.15,360.7 L399.7,362.1 L404.25,363 L408.8,363.9 L413.35,394.6 L417.9,399 L422.45,398.95 L427,398.9 L431.55,398.85 L436.1,398.8 L440.65,398.75 L445.2,398.7 L449.75,398.65 L454.3,398.6 L458.85,407.7 L463.4,410.3 L467.95,410.66 L472.5,411.02 L477.05,411.39 L481.6,411.75 L486.15,412.11 L490.7,412.48 L495.25,412.84 L499.8,413.2 L504.35,416.9 L508.9,418.4 L513.45,418.67 L518,418.95 L522.55,419.23 L527.1,419.5 L531.65,419.77 L536.2,420.05 L540.75,420.33 L545.3,420.6 L549.85,377.5 L554.4,371.5 L558.95,372.3 L563.5,372.5 L568.05,373.5 L572.6,374.6 L577.15,375.4 L581.7,376.1 L586.25,374.6 L590.8,375.8" fill="none" stroke="#2a2a2a" stroke-width="0.9" stroke-linejoin="round" stroke-linecap="round"/>
<rect x="365.45" y="280.3" width="4.8" height="4.8" fill="#2a2a2a"/>
<rect x="370" y="300.4" width="4.8" height="4.8" fill="#2a2a2a"/>
<rect x="374.55" y="335.1" width="4.8" height="4.8" fill="#2a2a2a"/>
<rect x="379.1" y="346.5" width="4.8" height="4.8" fill="#2a2a2a"/>
<rect x="383.65" y="350.9" width="4.8" height="4.8" fill="#2a2a2a"/>
<rect x="388.2" y="355" width="4.8" height="4.8" fill="#2a2a2a"/>
<rect x="392.75" y="358.3" width="4.8" height="4.8" fill="#2a2a2a"/>
<rect x="397.3" y="359.7" width="4.8" height="4.8" fill="#2a2a2a"/>
<rect x="401.85" y="360.6" width="4.8" height="4.8" fill="#2a2a2a"/>
<rect x="406.4" y="361.5" width="4.8" height="4.8" fill="#2a2a2a"/>
<rect x="410.95" y="392.2" width="4.8" height="4.8" fill="#2a2a2a"/>
<rect x="415.5" y="396.6" width="4.8" height="4.8" fill="#2a2a2a"/>
<rect x="420.05" y="396.55" width="4.8" height="4.8" fill="#2a2a2a"/>
<rect x="424.6" y="396.5" width="4.8" height="4.8" fill="#2a2a2a"/>
<rect x="429.15" y="396.45" width="4.8" height="4.8" fill="#2a2a2a"/>
<rect x="433.7" y="396.4" width="4.8" height="4.8" fill="#2a2a2a"/>
<rect x="438.25" y="396.35" width="4.8" height="4.8" fill="#2a2a2a"/>
<rect x="442.8" y="396.3" width="4.8" height="4.8" fill="#2a2a2a"/>
<rect x="447.35" y="396.25" width="4.8" height="4.8" fill="#2a2a2a"/>
<rect x="451.9" y="396.2" width="4.8" height="4.8" fill="#2a2a2a"/>
<rect x="456.45" y="405.3" width="4.8" height="4.8" fill="#2a2a2a"/>
<rect x="461" y="407.9" width="4.8" height="4.8" fill="#2a2a2a"/>
<rect x="465.55" y="408.26" width="4.8" height="4.8" fill="#2a2a2a"/>
<rect x="470.1" y="408.62" width="4.8" height="4.8" fill="#2a2a2a"/>
<rect x="474.65" y="408.99" width="4.8" height="4.8" fill="#2a2a2a"/>
<rect x="479.2" y="409.35" width="4.8" height="4.8" fill="#2a2a2a"/>
<rect x="483.75" y="409.71" width="4.8" height="4.8" fill="#2a2a2a"/>
<rect x="488.3" y="410.08" width="4.8" height="4.8" fill="#2a2a2a"/>
<rect x="492.85" y="410.44" width="4.8" height="4.8" fill="#2a2a2a"/>
<rect x="497.4" y="410.8" width="4.8" height="4.8" fill="#2a2a2a"/>
<rect x="501.95" y="414.5" width="4.8" height="4.8" fill="#2a2a2a"/>
<rect x="506.5" y="416" width="4.8" height="4.8" fill="#2a2a2a"/>
<rect x="511.05" y="416.27" width="4.8" height="4.8" fill="#2a2a2a"/>
<rect x="515.6" y="416.55" width="4.8" height="4.8" fill="#2a2a2a"/>
<rect x="520.15" y="416.83" width="4.8" height="4.8" fill="#2a2a2a"/>
<rect x="524.7" y="417.1" width="4.8" height="4.8" fill="#2a2a2a"/>
<rect x="529.25" y="417.38" width="4.8" height="4.8" fill="#2a2a2a"/>
<rect x="533.8" y="417.65" width="4.8" height="4.8" fill="#2a2a2a"/>
<rect x="538.35" y="417.93" width="4.8" height="4.8" fill="#2a2a2a"/>
<rect x="542.9" y="418.2" width="4.8" height="4.8" fill="#2a2a2a"/>
<rect x="547.45" y="375.1" width="4.8" height="4.8" fill="#2a2a2a"/>
<rect x="552" y="369.1" width="4.8" height="4.8" fill="#2a2a2a"/>
<rect x="556.55" y="369.9" width="4.8" height="4.8" fill="#2a2a2a"/>
<rect x="561.1" y="370.1" width="4.8" height="4.8" fill="#2a2a2a"/>
<rect x="565.65" y="371.1" width="4.8" height="4.8" fill="#2a2a2a"/>
<rect x="570.2" y="372.2" width="4.8" height="4.8" fill="#2a2a2a"/>
<rect x="574.75" y="373" width="4.8" height="4.8" fill="#2a2a2a"/>
<rect x="579.3" y="373.7" width="4.8" height="4.8" fill="#2a2a2a"/>
<rect x="583.85" y="372.2" width="4.8" height="4.8" fill="#2a2a2a"/>
<rect x="588.4" y="373.4" width="4.8" height="4.8" fill="#2a2a2a"/>
<path d="M367.85,306.8 L372.4,303.4 L376.95,302.2 L381.5,300.7 L386.05,304.2 L390.6,304.5 L395.15,305.5 L399.7,304.4 L404.25,306 L408.8,307.1 L413.35,345.7 L417.9,345.5 L422.45,345.9 L427,347 L431.55,346.7 L436.1,347.7 L440.65,345 L445.2,351.2 L449.75,351.8 L454.3,351 L458.85,371.4 L463.4,373.8 L467.95,374.95 L472.5,376.1 L477.05,377.25 L481.6,378.4 L486.15,379.55 L490.7,380.7 L495.25,381.85 L499.8,383 L504.35,396 L508.9,399.5 L513.45,400.29 L518,401.07 L522.55,401.86 L527.1,402.65 L531.65,403.44 L536.2,404.23 L540.75,405.01 L545.3,405.8 L549.85,338.2 L554.4,342.1 L558.95,345 L563.5,347.6 L568.05,350 L572.6,351.6 L577.15,354.5 L581.7,354 L586.25,355.3 L590.8,357.1" fill="none" stroke="#ff1a1a" stroke-width="0.9" stroke-linejoin="round" stroke-linecap="round"/>
<circle cx="367.85" cy="306.8" r="2.45" fill="#fff" stroke="#ff1a1a" stroke-width="1.0"/>
<circle cx="372.4" cy="303.4" r="2.45" fill="#fff" stroke="#ff1a1a" stroke-width="1.0"/>
<circle cx="376.95" cy="302.2" r="2.45" fill="#fff" stroke="#ff1a1a" stroke-width="1.0"/>
<circle cx="381.5" cy="300.7" r="2.45" fill="#fff" stroke="#ff1a1a" stroke-width="1.0"/>
<circle cx="386.05" cy="304.2" r="2.45" fill="#fff" stroke="#ff1a1a" stroke-width="1.0"/>
<circle cx="390.6" cy="304.5" r="2.45" fill="#fff" stroke="#ff1a1a" stroke-width="1.0"/>
<circle cx="395.15" cy="305.5" r="2.45" fill="#fff" stroke="#ff1a1a" stroke-width="1.0"/>
<circle cx="399.7" cy="304.4" r="2.45" fill="#fff" stroke="#ff1a1a" stroke-width="1.0"/>
<circle cx="404.25" cy="306" r="2.45" fill="#fff" stroke="#ff1a1a" stroke-width="1.0"/>
<circle cx="408.8" cy="307.1" r="2.45" fill="#fff" stroke="#ff1a1a" stroke-width="1.0"/>
<circle cx="413.35" cy="345.7" r="2.45" fill="#fff" stroke="#ff1a1a" stroke-width="1.0"/>
<circle cx="417.9" cy="345.5" r="2.45" fill="#fff" stroke="#ff1a1a" stroke-width="1.0"/>
<circle cx="422.45" cy="345.9" r="2.45" fill="#fff" stroke="#ff1a1a" stroke-width="1.0"/>
<circle cx="427" cy="347" r="2.45" fill="#fff" stroke="#ff1a1a" stroke-width="1.0"/>
<circle cx="431.55" cy="346.7" r="2.45" fill="#fff" stroke="#ff1a1a" stroke-width="1.0"/>
<circle cx="436.1" cy="347.7" r="2.45" fill="#fff" stroke="#ff1a1a" stroke-width="1.0"/>
<circle cx="440.65" cy="345" r="2.45" fill="#fff" stroke="#ff1a1a" stroke-width="1.0"/>
<circle cx="445.2" cy="351.2" r="2.45" fill="#fff" stroke="#ff1a1a" stroke-width="1.0"/>
<circle cx="449.75" cy="351.8" r="2.45" fill="#fff" stroke="#ff1a1a" stroke-width="1.0"/>
<circle cx="454.3" cy="351" r="2.45" fill="#fff" stroke="#ff1a1a" stroke-width="1.0"/>
<circle cx="458.85" cy="371.4" r="2.45" fill="#fff" stroke="#ff1a1a" stroke-width="1.0"/>
<circle cx="463.4" cy="373.8" r="2.45" fill="#fff" stroke="#ff1a1a" stroke-width="1.0"/>
<circle cx="467.95" cy="374.95" r="2.45" fill="#fff" stroke="#ff1a1a" stroke-width="1.0"/>
<circle cx="472.5" cy="376.1" r="2.45" fill="#fff" stroke="#ff1a1a" stroke-width="1.0"/>
<circle cx="477.05" cy="377.25" r="2.45" fill="#fff" stroke="#ff1a1a" stroke-width="1.0"/>
<circle cx="481.6" cy="378.4" r="2.45" fill="#fff" stroke="#ff1a1a" stroke-width="1.0"/>
<circle cx="486.15" cy="379.55" r="2.45" fill="#fff" stroke="#ff1a1a" stroke-width="1.0"/>
<circle cx="490.7" cy="380.7" r="2.45" fill="#fff" stroke="#ff1a1a" stroke-width="1.0"/>
<circle cx="495.25" cy="381.85" r="2.45" fill="#fff" stroke="#ff1a1a" stroke-width="1.0"/>
<circle cx="499.8" cy="383" r="2.45" fill="#fff" stroke="#ff1a1a" stroke-width="1.0"/>
<circle cx="504.35" cy="396" r="2.45" fill="#fff" stroke="#ff1a1a" stroke-width="1.0"/>
<circle cx="508.9" cy="399.5" r="2.45" fill="#fff" stroke="#ff1a1a" stroke-width="1.0"/>
<circle cx="513.45" cy="400.29" r="2.45" fill="#fff" stroke="#ff1a1a" stroke-width="1.0"/>
<circle cx="518" cy="401.07" r="2.45" fill="#fff" stroke="#ff1a1a" stroke-width="1.0"/>
<circle cx="522.55" cy="401.86" r="2.45" fill="#fff" stroke="#ff1a1a" stroke-width="1.0"/>
<circle cx="527.1" cy="402.65" r="2.45" fill="#fff" stroke="#ff1a1a" stroke-width="1.0"/>
<circle cx="531.65" cy="403.44" r="2.45" fill="#fff" stroke="#ff1a1a" stroke-width="1.0"/>
<circle cx="536.2" cy="404.23" r="2.45" fill="#fff" stroke="#ff1a1a" stroke-width="1.0"/>
<circle cx="540.75" cy="405.01" r="2.45" fill="#fff" stroke="#ff1a1a" stroke-width="1.0"/>
<circle cx="545.3" cy="405.8" r="2.45" fill="#fff" stroke="#ff1a1a" stroke-width="1.0"/>
<circle cx="549.85" cy="338.2" r="2.45" fill="#fff" stroke="#ff1a1a" stroke-width="1.0"/>
<circle cx="554.4" cy="342.1" r="2.45" fill="#fff" stroke="#ff1a1a" stroke-width="1.0"/>
<circle cx="558.95" cy="345" r="2.45" fill="#fff" stroke="#ff1a1a" stroke-width="1.0"/>
<circle cx="563.5" cy="347.6" r="2.45" fill="#fff" stroke="#ff1a1a" stroke-width="1.0"/>
<circle cx="568.05" cy="350" r="2.45" fill="#fff" stroke="#ff1a1a" stroke-width="1.0"/>
<circle cx="572.6" cy="351.6" r="2.45" fill="#fff" stroke="#ff1a1a" stroke-width="1.0"/>
<circle cx="577.15" cy="354.5" r="2.45" fill="#fff" stroke="#ff1a1a" stroke-width="1.0"/>
<circle cx="581.7" cy="354" r="2.45" fill="#fff" stroke="#ff1a1a" stroke-width="1.0"/>
<circle cx="586.25" cy="355.3" r="2.45" fill="#fff" stroke="#ff1a1a" stroke-width="1.0"/>
<circle cx="590.8" cy="357.1" r="2.45" fill="#fff" stroke="#ff1a1a" stroke-width="1.0"/>
<path d="M367.85,254.3 L372.4,292.7 L376.95,295.3 L381.5,293.8 L386.05,296.8 L390.6,297.6 L395.15,298.4 L399.7,297 L404.25,299.9 L408.8,300 L413.35,338.6 L417.9,342.7 L422.45,342.1 L427,341.5 L431.55,343.3 L436.1,342 L440.65,343.3 L445.2,347.7 L449.75,348.8 L454.3,349.2 L458.85,367 L463.4,372.5 L467.95,373.64 L472.5,374.77 L477.05,375.91 L481.6,377.05 L486.15,378.19 L490.7,379.33 L495.25,380.46 L499.8,381.6 L504.35,393.1 L508.9,398.1 L513.45,398.91 L518,399.73 L522.55,400.54 L527.1,401.35 L531.65,402.16 L536.2,402.98 L540.75,403.79 L545.3,404.6 L549.85,331.8 L554.4,333.8 L558.95,337.8 L563.5,341 L568.05,345 L572.6,346.3 L577.15,349.6 L581.7,348.3 L586.25,349.6 L590.8,351.3" fill="none" stroke="#ff1a1a" stroke-width="0.9" stroke-linejoin="round" stroke-linecap="round"/>
<rect x="365.45" y="251.9" width="4.8" height="4.8" fill="#ff1a1a"/>
<rect x="370" y="290.3" width="4.8" height="4.8" fill="#ff1a1a"/>
<rect x="374.55" y="292.9" width="4.8" height="4.8" fill="#ff1a1a"/>
<rect x="379.1" y="291.4" width="4.8" height="4.8" fill="#ff1a1a"/>
<rect x="383.65" y="294.4" width="4.8" height="4.8" fill="#ff1a1a"/>
<rect x="388.2" y="295.2" width="4.8" height="4.8" fill="#ff1a1a"/>
<rect x="392.75" y="296" width="4.8" height="4.8" fill="#ff1a1a"/>
<rect x="397.3" y="294.6" width="4.8" height="4.8" fill="#ff1a1a"/>
<rect x="401.85" y="297.5" width="4.8" height="4.8" fill="#ff1a1a"/>
<rect x="406.4" y="297.6" width="4.8" height="4.8" fill="#ff1a1a"/>
<rect x="410.95" y="336.2" width="4.8" height="4.8" fill="#ff1a1a"/>
<rect x="415.5" y="340.3" width="4.8" height="4.8" fill="#ff1a1a"/>
<rect x="420.05" y="339.7" width="4.8" height="4.8" fill="#ff1a1a"/>
<rect x="424.6" y="339.1" width="4.8" height="4.8" fill="#ff1a1a"/>
<rect x="429.15" y="340.9" width="4.8" height="4.8" fill="#ff1a1a"/>
<rect x="433.7" y="339.6" width="4.8" height="4.8" fill="#ff1a1a"/>
<rect x="438.25" y="340.9" width="4.8" height="4.8" fill="#ff1a1a"/>
<rect x="442.8" y="345.3" width="4.8" height="4.8" fill="#ff1a1a"/>
<rect x="447.35" y="346.4" width="4.8" height="4.8" fill="#ff1a1a"/>
<rect x="451.9" y="346.8" width="4.8" height="4.8" fill="#ff1a1a"/>
<rect x="456.45" y="364.6" width="4.8" height="4.8" fill="#ff1a1a"/>
<rect x="461" y="370.1" width="4.8" height="4.8" fill="#ff1a1a"/>
<rect x="465.55" y="371.24" width="4.8" height="4.8" fill="#ff1a1a"/>
<rect x="470.1" y="372.38" width="4.8" height="4.8" fill="#ff1a1a"/>
<rect x="474.65" y="373.51" width="4.8" height="4.8" fill="#ff1a1a"/>
<rect x="479.2" y="374.65" width="4.8" height="4.8" fill="#ff1a1a"/>
<rect x="483.75" y="375.79" width="4.8" height="4.8" fill="#ff1a1a"/>
<rect x="488.3" y="376.93" width="4.8" height="4.8" fill="#ff1a1a"/>
<rect x="492.85" y="378.06" width="4.8" height="4.8" fill="#ff1a1a"/>
<rect x="497.4" y="379.2" width="4.8" height="4.8" fill="#ff1a1a"/>
<rect x="501.95" y="390.7" width="4.8" height="4.8" fill="#ff1a1a"/>
<rect x="506.5" y="395.7" width="4.8" height="4.8" fill="#ff1a1a"/>
<rect x="511.05" y="396.51" width="4.8" height="4.8" fill="#ff1a1a"/>
<rect x="515.6" y="397.33" width="4.8" height="4.8" fill="#ff1a1a"/>
<rect x="520.15" y="398.14" width="4.8" height="4.8" fill="#ff1a1a"/>
<rect x="524.7" y="398.95" width="4.8" height="4.8" fill="#ff1a1a"/>
<rect x="529.25" y="399.76" width="4.8" height="4.8" fill="#ff1a1a"/>
<rect x="533.8" y="400.58" width="4.8" height="4.8" fill="#ff1a1a"/>
<rect x="538.35" y="401.39" width="4.8" height="4.8" fill="#ff1a1a"/>
<rect x="542.9" y="402.2" width="4.8" height="4.8" fill="#ff1a1a"/>
<rect x="547.45" y="329.4" width="4.8" height="4.8" fill="#ff1a1a"/>
<rect x="552" y="331.4" width="4.8" height="4.8" fill="#ff1a1a"/>
<rect x="556.55" y="335.4" width="4.8" height="4.8" fill="#ff1a1a"/>
<rect x="561.1" y="338.6" width="4.8" height="4.8" fill="#ff1a1a"/>
<rect x="565.65" y="342.6" width="4.8" height="4.8" fill="#ff1a1a"/>
<rect x="570.2" y="343.9" width="4.8" height="4.8" fill="#ff1a1a"/>
<rect x="574.75" y="347.2" width="4.8" height="4.8" fill="#ff1a1a"/>
<rect x="579.3" y="345.9" width="4.8" height="4.8" fill="#ff1a1a"/>
<rect x="583.85" y="347.2" width="4.8" height="4.8" fill="#ff1a1a"/>
<rect x="588.4" y="348.9" width="4.8" height="4.8" fill="#ff1a1a"/>
<text x="376.6" y="292.3" font-family="Liberation Serif" font-weight="bold" font-size="9" fill="#111">0.05 A g<tspan dy="-3" font-size="5.8">-1</tspan></text>
<text x="420.8" y="338.2" font-family="Liberation Serif" font-weight="bold" font-size="9" fill="#111">0.1 A g<tspan dy="-3" font-size="5.8">-1</tspan></text>
<text x="468.4" y="370.8" font-family="Liberation Serif" font-weight="bold" font-size="9" fill="#111">0.15 A g<tspan dy="-3" font-size="5.8">-1</tspan></text>
<text x="513.6" y="397" font-family="Liberation Serif" font-weight="bold" font-size="9" fill="#111">0.2 A g<tspan dy="-3" font-size="5.8">-1</tspan></text>
<text x="557.1" y="335.9" font-family="Liberation Serif" font-weight="bold" font-size="9" fill="#111">0.05 A g<tspan dy="-3" font-size="5.8">-1</tspan></text>
<line x1="501.9" y1="255.3" x2="520.9" y2="255.3" stroke="#ff1a1a" stroke-width="1.1"/>
<circle cx="511.3" cy="255.3" r="2.3" fill="#fff" stroke="#ff1a1a" stroke-width="1.0"/>
<line x1="526.2" y1="255.3" x2="545.4" y2="255.3" stroke="#ff1a1a" stroke-width="1.1"/>
<rect x="533.7" y="253.2" width="4.2" height="4.2" fill="#ff1a1a"/>
<text x="549.8" y="258.9" font-family="Liberation Serif" font-weight="bold" font-size="10.5" fill="#111" text-anchor="start" >GeS-G</text>
<line x1="501.9" y1="268.3" x2="520.9" y2="268.3" stroke="#2a2a2a" stroke-width="1.1"/>
<circle cx="511.3" cy="268.3" r="2.3" fill="#fff" stroke="#2a2a2a" stroke-width="1.0"/>
<line x1="526.2" y1="268.3" x2="545.4" y2="268.3" stroke="#2a2a2a" stroke-width="1.1"/>
<rect x="533.7" y="266.2" width="4.2" height="4.2" fill="#2a2a2a"/>
<text x="549.8" y="271.9" font-family="Liberation Serif" font-weight="bold" font-size="10.5" fill="#111" text-anchor="start" >GeS</text>
</svg></body></html>
